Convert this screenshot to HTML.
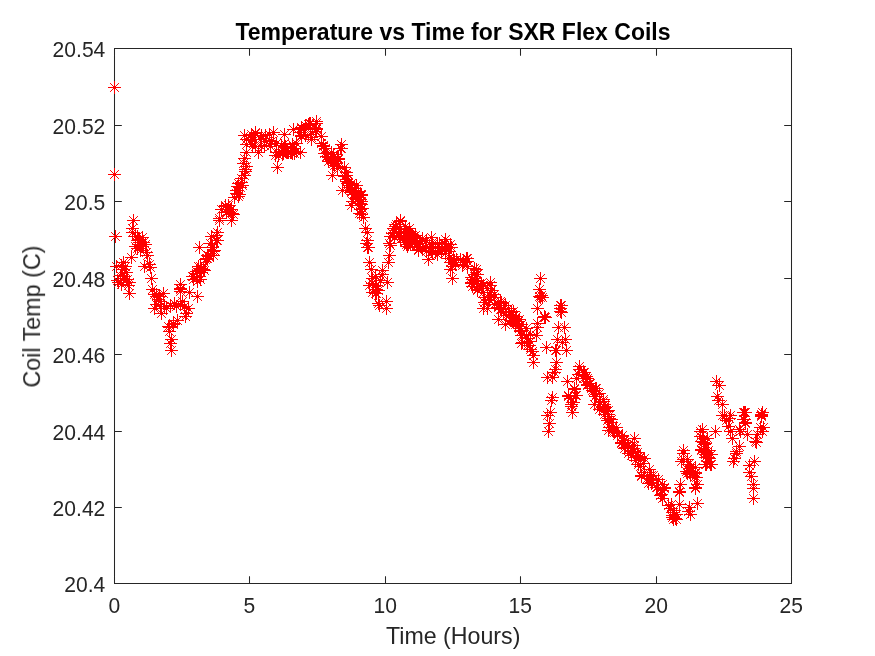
<!DOCTYPE html><html><head><meta charset="utf-8"><style>html,body{margin:0;padding:0;background:#fff;}svg{display:block;}text{font-family:"Liberation Sans",sans-serif;}</style></head><body>
<svg width="875" height="656" viewBox="0 0 875 656">
<rect width="875" height="656" fill="#fff"/>
<path d="M114.5 48.5H791.5V583.5H114.5ZM114.5 583.5v-6.8M114.5 48.5v6.8M249.5 583.5v-6.8M249.5 48.5v6.8M385.5 583.5v-6.8M385.5 48.5v6.8M520.5 583.5v-6.8M520.5 48.5v6.8M656.5 583.5v-6.8M656.5 48.5v6.8M791.5 583.5v-6.8M791.5 48.5v6.8M114.5 583.5h6.8M791.5 583.5h-6.8M114.5 507.5h6.8M791.5 507.5h-6.8M114.5 431.5h6.8M791.5 431.5h-6.8M114.5 354.5h6.8M791.5 354.5h-6.8M114.5 278.5h6.8M791.5 278.5h-6.8M114.5 201.5h6.8M791.5 201.5h-6.8M114.5 125.5h6.8M791.5 125.5h-6.8M114.5 48.5h6.8M791.5 48.5h-6.8" stroke="#262626" stroke-width="1.04" fill="none" stroke-linecap="square"/>
<path d="M108.00 87.50h13.00M114.50 81.00v13.00M110.10 83.10l8.80 8.80M110.10 91.90l8.80 -8.80M108.00 174.50h13.00M114.50 168.00v13.00M110.10 170.10l8.80 8.80M110.10 178.90l8.80 -8.80M109.00 236.50h13.00M115.50 230.00v13.00M111.10 232.10l8.80 8.80M111.10 240.90l8.80 -8.80M127.00 220.50h13.00M133.50 214.00v13.00M129.10 216.10l8.80 8.80M129.10 224.90l8.80 -8.80M126.00 228.50h13.00M132.50 222.00v13.00M128.10 224.10l8.80 8.80M128.10 232.90l8.80 -8.80M131.00 236.50h13.00M137.50 230.00v13.00M133.10 232.10l8.80 8.80M133.10 240.90l8.80 -8.80M133.00 239.50h13.00M139.50 233.00v13.00M135.10 235.10l8.80 8.80M135.10 243.90l8.80 -8.80M135.00 242.50h13.00M141.50 236.00v13.00M137.10 238.10l8.80 8.80M137.10 246.90l8.80 -8.80M132.00 244.50h13.00M138.50 238.00v13.00M134.10 240.10l8.80 8.80M134.10 248.90l8.80 -8.80M136.00 237.50h13.00M142.50 231.00v13.00M138.10 233.10l8.80 8.80M138.10 241.90l8.80 -8.80M110.00 266.50h13.00M116.50 260.00v13.00M112.10 262.10l8.80 8.80M112.10 270.90l8.80 -8.80M117.00 262.50h13.00M123.50 256.00v13.00M119.10 258.10l8.80 8.80M119.10 266.90l8.80 -8.80M116.00 269.50h13.00M122.50 263.00v13.00M118.10 265.10l8.80 8.80M118.10 273.90l8.80 -8.80M111.00 280.50h13.00M117.50 274.00v13.00M113.10 276.10l8.80 8.80M113.10 284.90l8.80 -8.80M112.00 282.50h13.00M118.50 276.00v13.00M114.10 278.10l8.80 8.80M114.10 286.90l8.80 -8.80M117.00 278.50h13.00M123.50 272.00v13.00M119.10 274.10l8.80 8.80M119.10 282.90l8.80 -8.80M121.00 279.50h13.00M127.50 273.00v13.00M123.10 275.10l8.80 8.80M123.10 283.90l8.80 -8.80M123.00 282.50h13.00M129.50 276.00v13.00M125.10 278.10l8.80 8.80M125.10 286.90l8.80 -8.80M123.00 293.50h13.00M129.50 287.00v13.00M125.10 289.10l8.80 8.80M125.10 297.90l8.80 -8.80M125.00 257.50h13.00M131.50 251.00v13.00M127.10 253.10l8.80 8.80M127.10 261.90l8.80 -8.80M129.00 246.50h13.00M135.50 240.00v13.00M131.10 242.10l8.80 8.80M131.10 250.90l8.80 -8.80M133.00 242.50h13.00M139.50 236.00v13.00M135.10 238.10l8.80 8.80M135.10 246.90l8.80 -8.80M137.00 242.50h13.00M143.50 236.00v13.00M139.10 238.10l8.80 8.80M139.10 246.90l8.80 -8.80M140.00 252.50h13.00M146.50 246.00v13.00M142.10 248.10l8.80 8.80M142.10 256.90l8.80 -8.80M141.00 255.50h13.00M147.50 249.00v13.00M143.10 251.10l8.80 8.80M143.10 259.90l8.80 -8.80M138.00 266.50h13.00M144.50 260.00v13.00M140.10 262.10l8.80 8.80M140.10 270.90l8.80 -8.80M143.00 264.50h13.00M149.50 258.00v13.00M145.10 260.10l8.80 8.80M145.10 268.90l8.80 -8.80M144.00 267.50h13.00M150.50 261.00v13.00M146.10 263.10l8.80 8.80M146.10 271.90l8.80 -8.80M145.00 278.50h13.00M151.50 272.00v13.00M147.10 274.10l8.80 8.80M147.10 282.90l8.80 -8.80M146.00 289.50h13.00M152.50 283.00v13.00M148.10 285.10l8.80 8.80M148.10 293.90l8.80 -8.80M150.00 294.50h13.00M156.50 288.00v13.00M152.10 290.10l8.80 8.80M152.10 298.90l8.80 -8.80M153.00 296.50h13.00M159.50 290.00v13.00M155.10 292.10l8.80 8.80M155.10 300.90l8.80 -8.80M157.00 293.50h13.00M163.50 287.00v13.00M159.10 289.10l8.80 8.80M159.10 297.90l8.80 -8.80M174.00 284.50h13.00M180.50 278.00v13.00M176.10 280.10l8.80 8.80M176.10 288.90l8.80 -8.80M174.00 289.50h13.00M180.50 283.00v13.00M176.10 285.10l8.80 8.80M176.10 293.90l8.80 -8.80M145.00 278.50h13.00M151.50 272.00v13.00M147.10 274.10l8.80 8.80M147.10 282.90l8.80 -8.80M146.00 289.50h13.00M152.50 283.00v13.00M148.10 285.10l8.80 8.80M148.10 293.90l8.80 -8.80M150.00 296.50h13.00M156.50 290.00v13.00M152.10 292.10l8.80 8.80M152.10 300.90l8.80 -8.80M148.00 294.50h13.00M154.50 288.00v13.00M150.10 290.10l8.80 8.80M150.10 298.90l8.80 -8.80M152.00 299.50h13.00M158.50 293.00v13.00M154.10 295.10l8.80 8.80M154.10 303.90l8.80 -8.80M154.00 301.50h13.00M160.50 295.00v13.00M156.10 297.10l8.80 8.80M156.10 305.90l8.80 -8.80M157.00 293.50h13.00M163.50 287.00v13.00M159.10 289.10l8.80 8.80M159.10 297.90l8.80 -8.80M148.00 308.50h13.00M154.50 302.00v13.00M150.10 304.10l8.80 8.80M150.10 312.90l8.80 -8.80M155.00 313.50h13.00M161.50 307.00v13.00M157.10 309.10l8.80 8.80M157.10 317.90l8.80 -8.80M158.00 306.50h13.00M164.50 300.00v13.00M160.10 302.10l8.80 8.80M160.10 310.90l8.80 -8.80M160.00 308.50h13.00M166.50 302.00v13.00M162.10 304.10l8.80 8.80M162.10 312.90l8.80 -8.80M170.00 306.50h13.00M176.50 300.00v13.00M172.10 302.10l8.80 8.80M172.10 310.90l8.80 -8.80M174.00 288.50h13.00M180.50 282.00v13.00M176.10 284.10l8.80 8.80M176.10 292.90l8.80 -8.80M174.00 291.50h13.00M180.50 285.00v13.00M176.10 287.10l8.80 8.80M176.10 295.90l8.80 -8.80M176.00 301.50h13.00M182.50 295.00v13.00M178.10 297.10l8.80 8.80M178.10 305.90l8.80 -8.80M180.00 313.50h13.00M186.50 307.00v13.00M182.10 309.10l8.80 8.80M182.10 317.90l8.80 -8.80M179.00 316.50h13.00M185.50 310.00v13.00M181.10 312.10l8.80 8.80M181.10 320.90l8.80 -8.80M182.00 308.50h13.00M188.50 302.00v13.00M184.10 304.10l8.80 8.80M184.10 312.90l8.80 -8.80M171.00 320.50h13.00M177.50 314.00v13.00M173.10 316.10l8.80 8.80M173.10 324.90l8.80 -8.80M167.00 324.50h13.00M173.50 318.00v13.00M169.10 320.10l8.80 8.80M169.10 328.90l8.80 -8.80M162.00 326.50h13.00M168.50 320.00v13.00M164.10 322.10l8.80 8.80M164.10 330.90l8.80 -8.80M183.00 292.50h13.00M189.50 286.00v13.00M185.10 288.10l8.80 8.80M185.10 296.90l8.80 -8.80M187.00 279.50h13.00M193.50 273.00v13.00M189.10 275.10l8.80 8.80M189.10 283.90l8.80 -8.80M191.00 281.50h13.00M197.50 275.00v13.00M193.10 277.10l8.80 8.80M193.10 285.90l8.80 -8.80M191.00 296.50h13.00M197.50 290.00v13.00M193.10 292.10l8.80 8.80M193.10 300.90l8.80 -8.80M194.00 279.50h13.00M200.50 273.00v13.00M196.10 275.10l8.80 8.80M196.10 283.90l8.80 -8.80M195.00 272.50h13.00M201.50 266.00v13.00M197.10 268.10l8.80 8.80M197.10 276.90l8.80 -8.80M198.00 270.50h13.00M204.50 264.00v13.00M200.10 266.10l8.80 8.80M200.10 274.90l8.80 -8.80M163.00 327.50h13.00M169.50 321.00v13.00M165.10 323.10l8.80 8.80M165.10 331.90l8.80 -8.80M163.00 331.50h13.00M169.50 325.00v13.00M165.10 327.10l8.80 8.80M165.10 335.90l8.80 -8.80M167.00 323.50h13.00M173.50 317.00v13.00M169.10 319.10l8.80 8.80M169.10 327.90l8.80 -8.80M171.00 320.50h13.00M177.50 314.00v13.00M173.10 316.10l8.80 8.80M173.10 324.90l8.80 -8.80M165.00 339.50h13.00M171.50 333.00v13.00M167.10 335.10l8.80 8.80M167.10 343.90l8.80 -8.80M164.00 343.50h13.00M170.50 337.00v13.00M166.10 339.10l8.80 8.80M166.10 347.90l8.80 -8.80M165.00 350.50h13.00M171.50 344.00v13.00M167.10 346.10l8.80 8.80M167.10 354.90l8.80 -8.80M179.00 316.50h13.00M185.50 310.00v13.00M181.10 312.10l8.80 8.80M181.10 320.90l8.80 -8.80M150.00 304.50h13.00M156.50 298.00v13.00M152.10 300.10l8.80 8.80M152.10 308.90l8.80 -8.80M154.00 306.50h13.00M160.50 300.00v13.00M156.10 302.10l8.80 8.80M156.10 310.90l8.80 -8.80M164.00 305.50h13.00M170.50 299.00v13.00M166.10 301.10l8.80 8.80M166.10 309.90l8.80 -8.80M168.00 303.50h13.00M174.50 297.00v13.00M170.10 299.10l8.80 8.80M170.10 307.90l8.80 -8.80M174.00 304.50h13.00M180.50 298.00v13.00M176.10 300.10l8.80 8.80M176.10 308.90l8.80 -8.80M178.00 306.50h13.00M184.50 300.00v13.00M180.10 302.10l8.80 8.80M180.10 310.90l8.80 -8.80M213.00 220.50h13.00M219.50 214.00v13.00M215.10 216.10l8.80 8.80M215.10 224.90l8.80 -8.80M225.00 220.50h13.00M231.50 214.00v13.00M227.10 216.10l8.80 8.80M227.10 224.90l8.80 -8.80M211.00 232.50h13.00M217.50 226.00v13.00M213.10 228.10l8.80 8.80M213.10 236.90l8.80 -8.80M205.00 236.50h13.00M211.50 230.00v13.00M207.10 232.10l8.80 8.80M207.10 240.90l8.80 -8.80M211.00 240.50h13.00M217.50 234.00v13.00M213.10 236.10l8.80 8.80M213.10 244.90l8.80 -8.80M193.00 247.50h13.00M199.50 241.00v13.00M195.10 243.10l8.80 8.80M195.10 251.90l8.80 -8.80M204.00 243.50h13.00M210.50 237.00v13.00M206.10 239.10l8.80 8.80M206.10 247.90l8.80 -8.80M207.00 251.50h13.00M213.50 245.00v13.00M209.10 247.10l8.80 8.80M209.10 255.90l8.80 -8.80M207.00 255.50h13.00M213.50 249.00v13.00M209.10 251.10l8.80 8.80M209.10 259.90l8.80 -8.80M202.00 255.50h13.00M208.50 249.00v13.00M204.10 251.10l8.80 8.80M204.10 259.90l8.80 -8.80M199.00 259.50h13.00M205.50 253.00v13.00M201.10 255.10l8.80 8.80M201.10 263.90l8.80 -8.80M192.00 266.50h13.00M198.50 260.00v13.00M194.10 262.10l8.80 8.80M194.10 270.90l8.80 -8.80M197.00 269.50h13.00M203.50 263.00v13.00M199.10 265.10l8.80 8.80M199.10 273.90l8.80 -8.80M187.00 276.50h13.00M193.50 270.00v13.00M189.10 272.10l8.80 8.80M189.10 280.90l8.80 -8.80M193.00 276.50h13.00M199.50 270.00v13.00M195.10 272.10l8.80 8.80M195.10 280.90l8.80 -8.80M237.00 163.50h13.00M243.50 157.00v13.00M239.10 159.10l8.80 8.80M239.10 167.90l8.80 -8.80M239.00 171.50h13.00M245.50 165.00v13.00M241.10 167.10l8.80 8.80M241.10 175.90l8.80 -8.80M271.00 167.50h13.00M277.50 161.00v13.00M273.10 163.10l8.80 8.80M273.10 171.90l8.80 -8.80M235.00 182.50h13.00M241.50 176.00v13.00M237.10 178.10l8.80 8.80M237.10 186.90l8.80 -8.80M231.00 186.50h13.00M237.50 180.00v13.00M233.10 182.10l8.80 8.80M233.10 190.90l8.80 -8.80M230.00 190.50h13.00M236.50 184.00v13.00M232.10 186.10l8.80 8.80M232.10 194.90l8.80 -8.80M233.00 194.50h13.00M239.50 188.00v13.00M235.10 190.10l8.80 8.80M235.10 198.90l8.80 -8.80M228.00 197.50h13.00M234.50 191.00v13.00M230.10 193.10l8.80 8.80M230.10 201.90l8.80 -8.80M219.00 205.50h13.00M225.50 199.00v13.00M221.10 201.10l8.80 8.80M221.10 209.90l8.80 -8.80M215.00 209.50h13.00M221.50 203.00v13.00M217.10 205.10l8.80 8.80M217.10 213.90l8.80 -8.80M225.00 209.50h13.00M231.50 203.00v13.00M227.10 205.10l8.80 8.80M227.10 213.90l8.80 -8.80M226.00 213.50h13.00M232.50 207.00v13.00M228.10 209.10l8.80 8.80M228.10 217.90l8.80 -8.80M213.00 218.50h13.00M219.50 212.00v13.00M215.10 214.10l8.80 8.80M215.10 222.90l8.80 -8.80M222.00 211.50h13.00M228.50 205.00v13.00M224.10 207.10l8.80 8.80M224.10 215.90l8.80 -8.80M249.00 132.50h13.00M255.50 126.00v13.00M251.10 128.10l8.80 8.80M251.10 136.90l8.80 -8.80M244.00 140.50h13.00M250.50 134.00v13.00M246.10 136.10l8.80 8.80M246.10 144.90l8.80 -8.80M240.00 152.50h13.00M246.50 146.00v13.00M242.10 148.10l8.80 8.80M242.10 156.90l8.80 -8.80M252.00 152.50h13.00M258.50 146.00v13.00M254.10 148.10l8.80 8.80M254.10 156.90l8.80 -8.80M237.00 163.50h13.00M243.50 157.00v13.00M239.10 159.10l8.80 8.80M239.10 167.90l8.80 -8.80M239.00 169.50h13.00M245.50 163.00v13.00M241.10 165.10l8.80 8.80M241.10 173.90l8.80 -8.80M267.00 132.50h13.00M273.50 126.00v13.00M269.10 128.10l8.80 8.80M269.10 136.90l8.80 -8.80M278.00 134.50h13.00M284.50 128.00v13.00M280.10 130.10l8.80 8.80M280.10 138.90l8.80 -8.80M287.00 129.50h13.00M293.50 123.00v13.00M289.10 125.10l8.80 8.80M289.10 133.90l8.80 -8.80M263.00 140.50h13.00M269.50 134.00v13.00M265.10 136.10l8.80 8.80M265.10 144.90l8.80 -8.80M272.00 155.50h13.00M278.50 149.00v13.00M274.10 151.10l8.80 8.80M274.10 159.90l8.80 -8.80M271.00 167.50h13.00M277.50 161.00v13.00M273.10 163.10l8.80 8.80M273.10 171.90l8.80 -8.80M287.00 148.50h13.00M293.50 142.00v13.00M289.10 144.10l8.80 8.80M289.10 152.90l8.80 -8.80M280.00 151.50h13.00M286.50 145.00v13.00M282.10 147.10l8.80 8.80M282.10 155.90l8.80 -8.80M278.00 143.50h13.00M284.50 137.00v13.00M280.10 139.10l8.80 8.80M280.10 147.90l8.80 -8.80M305.00 139.50h13.00M311.50 133.00v13.00M307.10 135.10l8.80 8.80M307.10 143.90l8.80 -8.80M302.00 124.50h13.00M308.50 118.00v13.00M304.10 120.10l8.80 8.80M304.10 128.90l8.80 -8.80M287.00 129.50h13.00M293.50 123.00v13.00M289.10 125.10l8.80 8.80M289.10 133.90l8.80 -8.80M295.00 128.50h13.00M301.50 122.00v13.00M297.10 124.10l8.80 8.80M297.10 132.90l8.80 -8.80M295.00 135.50h13.00M301.50 129.00v13.00M297.10 131.10l8.80 8.80M297.10 139.90l8.80 -8.80M303.00 123.50h13.00M309.50 117.00v13.00M305.10 119.10l8.80 8.80M305.10 127.90l8.80 -8.80M310.00 121.50h13.00M316.50 115.00v13.00M312.10 117.10l8.80 8.80M312.10 125.90l8.80 -8.80M305.00 137.50h13.00M311.50 131.00v13.00M307.10 133.10l8.80 8.80M307.10 141.90l8.80 -8.80M310.00 128.50h13.00M316.50 122.00v13.00M312.10 124.10l8.80 8.80M312.10 132.90l8.80 -8.80M315.00 136.50h13.00M321.50 130.00v13.00M317.10 132.10l8.80 8.80M317.10 140.90l8.80 -8.80M315.00 143.50h13.00M321.50 137.00v13.00M317.10 139.10l8.80 8.80M317.10 147.90l8.80 -8.80M288.00 148.50h13.00M294.50 142.00v13.00M290.10 144.10l8.80 8.80M290.10 152.90l8.80 -8.80M285.00 152.50h13.00M291.50 146.00v13.00M287.10 148.10l8.80 8.80M287.10 156.90l8.80 -8.80M335.00 144.50h13.00M341.50 138.00v13.00M337.10 140.10l8.80 8.80M337.10 148.90l8.80 -8.80M335.00 148.50h13.00M341.50 142.00v13.00M337.10 144.10l8.80 8.80M337.10 152.90l8.80 -8.80M320.00 156.50h13.00M326.50 150.00v13.00M322.10 152.10l8.80 8.80M322.10 160.90l8.80 -8.80M327.00 156.50h13.00M333.50 150.00v13.00M329.10 152.10l8.80 8.80M329.10 160.90l8.80 -8.80M322.00 161.50h13.00M328.50 155.00v13.00M324.10 157.10l8.80 8.80M324.10 165.90l8.80 -8.80M331.00 159.50h13.00M337.50 153.00v13.00M333.10 155.10l8.80 8.80M333.10 163.90l8.80 -8.80M334.00 148.50h13.00M340.50 142.00v13.00M336.10 144.10l8.80 8.80M336.10 152.90l8.80 -8.80M317.00 146.50h13.00M323.50 140.00v13.00M319.10 142.10l8.80 8.80M319.10 150.90l8.80 -8.80M321.00 156.50h13.00M327.50 150.00v13.00M323.10 152.10l8.80 8.80M323.10 160.90l8.80 -8.80M325.00 160.50h13.00M331.50 154.00v13.00M327.10 156.10l8.80 8.80M327.10 164.90l8.80 -8.80M330.00 163.50h13.00M336.50 157.00v13.00M332.10 159.10l8.80 8.80M332.10 167.90l8.80 -8.80M326.00 175.50h13.00M332.50 169.00v13.00M328.10 171.10l8.80 8.80M328.10 179.90l8.80 -8.80M339.00 175.50h13.00M345.50 169.00v13.00M341.10 171.10l8.80 8.80M341.10 179.90l8.80 -8.80M340.00 181.50h13.00M346.50 175.00v13.00M342.10 177.10l8.80 8.80M342.10 185.90l8.80 -8.80M343.00 185.50h13.00M349.50 179.00v13.00M345.10 181.10l8.80 8.80M345.10 189.90l8.80 -8.80M336.00 190.50h13.00M342.50 184.00v13.00M338.10 186.10l8.80 8.80M338.10 194.90l8.80 -8.80M350.00 185.50h13.00M356.50 179.00v13.00M352.10 181.10l8.80 8.80M352.10 189.90l8.80 -8.80M348.00 190.50h13.00M354.50 184.00v13.00M350.10 186.10l8.80 8.80M350.10 194.90l8.80 -8.80M354.00 194.50h13.00M360.50 188.00v13.00M356.10 190.10l8.80 8.80M356.10 198.90l8.80 -8.80M349.00 198.50h13.00M355.50 192.00v13.00M351.10 194.10l8.80 8.80M351.10 202.90l8.80 -8.80M354.00 199.50h13.00M360.50 193.00v13.00M356.10 195.10l8.80 8.80M356.10 203.90l8.80 -8.80M345.00 191.50h13.00M351.50 185.00v13.00M347.10 187.10l8.80 8.80M347.10 195.90l8.80 -8.80M355.00 194.50h13.00M361.50 188.00v13.00M357.10 190.10l8.80 8.80M357.10 198.90l8.80 -8.80M346.00 201.50h13.00M352.50 195.00v13.00M348.10 197.10l8.80 8.80M348.10 205.90l8.80 -8.80M355.00 201.50h13.00M361.50 195.00v13.00M357.10 197.10l8.80 8.80M357.10 205.90l8.80 -8.80M345.00 205.50h13.00M351.50 199.00v13.00M347.10 201.10l8.80 8.80M347.10 209.90l8.80 -8.80M353.00 213.50h13.00M359.50 207.00v13.00M355.10 209.10l8.80 8.80M355.10 217.90l8.80 -8.80M357.00 217.50h13.00M363.50 211.00v13.00M359.10 213.10l8.80 8.80M359.10 221.90l8.80 -8.80M359.00 228.50h13.00M365.50 222.00v13.00M361.10 224.10l8.80 8.80M361.10 232.90l8.80 -8.80M361.00 232.50h13.00M367.50 226.00v13.00M363.10 228.10l8.80 8.80M363.10 236.90l8.80 -8.80M361.00 240.50h13.00M367.50 234.00v13.00M363.10 236.10l8.80 8.80M363.10 244.90l8.80 -8.80M360.00 243.50h13.00M366.50 237.00v13.00M362.10 239.10l8.80 8.80M362.10 247.90l8.80 -8.80M361.00 247.50h13.00M367.50 241.00v13.00M363.10 243.10l8.80 8.80M363.10 251.90l8.80 -8.80M394.00 220.50h13.00M400.50 214.00v13.00M396.10 216.10l8.80 8.80M396.10 224.90l8.80 -8.80M390.00 224.50h13.00M396.50 218.00v13.00M392.10 220.10l8.80 8.80M392.10 228.90l8.80 -8.80M403.00 228.50h13.00M409.50 222.00v13.00M405.10 224.10l8.80 8.80M405.10 232.90l8.80 -8.80M386.00 233.50h13.00M392.50 227.00v13.00M388.10 229.10l8.80 8.80M388.10 237.90l8.80 -8.80M384.00 236.50h13.00M390.50 230.00v13.00M386.10 232.10l8.80 8.80M386.10 240.90l8.80 -8.80M383.00 243.50h13.00M389.50 237.00v13.00M385.10 239.10l8.80 8.80M385.10 247.90l8.80 -8.80M392.00 233.50h13.00M398.50 227.00v13.00M394.10 229.10l8.80 8.80M394.10 237.90l8.80 -8.80M401.00 233.50h13.00M407.50 227.00v13.00M403.10 229.10l8.80 8.80M403.10 237.90l8.80 -8.80M407.00 237.50h13.00M413.50 231.00v13.00M409.10 233.10l8.80 8.80M409.10 241.90l8.80 -8.80M411.00 244.50h13.00M417.50 238.00v13.00M413.10 240.10l8.80 8.80M413.10 248.90l8.80 -8.80M400.00 244.50h13.00M406.50 238.00v13.00M402.10 240.10l8.80 8.80M402.10 248.90l8.80 -8.80M362.00 247.50h13.00M368.50 241.00v13.00M364.10 243.10l8.80 8.80M364.10 251.90l8.80 -8.80M384.00 245.50h13.00M390.50 239.00v13.00M386.10 241.10l8.80 8.80M386.10 249.90l8.80 -8.80M401.00 246.50h13.00M407.50 240.00v13.00M403.10 242.10l8.80 8.80M403.10 250.90l8.80 -8.80M383.00 255.50h13.00M389.50 249.00v13.00M385.10 251.10l8.80 8.80M385.10 259.90l8.80 -8.80M382.00 262.50h13.00M388.50 256.00v13.00M384.10 258.10l8.80 8.80M384.10 266.90l8.80 -8.80M363.00 262.50h13.00M369.50 256.00v13.00M365.10 258.10l8.80 8.80M365.10 266.90l8.80 -8.80M365.00 269.50h13.00M371.50 263.00v13.00M367.10 265.10l8.80 8.80M367.10 273.90l8.80 -8.80M376.00 270.50h13.00M382.50 264.00v13.00M378.10 266.10l8.80 8.80M378.10 274.90l8.80 -8.80M376.00 274.50h13.00M382.50 268.00v13.00M378.10 270.10l8.80 8.80M378.10 278.90l8.80 -8.80M366.00 278.50h13.00M372.50 272.00v13.00M368.10 274.10l8.80 8.80M368.10 282.90l8.80 -8.80M363.00 285.50h13.00M369.50 279.00v13.00M365.10 281.10l8.80 8.80M365.10 289.90l8.80 -8.80M370.00 285.50h13.00M376.50 279.00v13.00M372.10 281.10l8.80 8.80M372.10 289.90l8.80 -8.80M381.00 282.50h13.00M387.50 276.00v13.00M383.10 278.10l8.80 8.80M383.10 286.90l8.80 -8.80M370.00 289.50h13.00M376.50 283.00v13.00M372.10 285.10l8.80 8.80M372.10 293.90l8.80 -8.80M370.00 293.50h13.00M376.50 287.00v13.00M372.10 289.10l8.80 8.80M372.10 297.90l8.80 -8.80M380.00 301.50h13.00M386.50 295.00v13.00M382.10 297.10l8.80 8.80M382.10 305.90l8.80 -8.80M372.00 303.50h13.00M378.50 297.00v13.00M374.10 299.10l8.80 8.80M374.10 307.90l8.80 -8.80M412.00 249.50h13.00M418.50 243.00v13.00M414.10 245.10l8.80 8.80M414.10 253.90l8.80 -8.80M373.00 305.50h13.00M379.50 299.00v13.00M375.10 301.10l8.80 8.80M375.10 309.90l8.80 -8.80M380.00 301.50h13.00M386.50 295.00v13.00M382.10 297.10l8.80 8.80M382.10 305.90l8.80 -8.80M380.00 308.50h13.00M386.50 302.00v13.00M382.10 304.10l8.80 8.80M382.10 312.90l8.80 -8.80M369.00 293.50h13.00M375.50 287.00v13.00M371.10 289.10l8.80 8.80M371.10 297.90l8.80 -8.80M369.00 285.50h13.00M375.50 279.00v13.00M371.10 281.10l8.80 8.80M371.10 289.90l8.80 -8.80M381.00 282.50h13.00M387.50 276.00v13.00M383.10 278.10l8.80 8.80M383.10 286.90l8.80 -8.80M403.00 228.50h13.00M409.50 222.00v13.00M405.10 224.10l8.80 8.80M405.10 232.90l8.80 -8.80M401.00 235.50h13.00M407.50 229.00v13.00M403.10 231.10l8.80 8.80M403.10 239.90l8.80 -8.80M401.00 242.50h13.00M407.50 236.00v13.00M403.10 238.10l8.80 8.80M403.10 246.90l8.80 -8.80M413.00 241.50h13.00M419.50 235.00v13.00M415.10 237.10l8.80 8.80M415.10 245.90l8.80 -8.80M412.00 250.50h13.00M418.50 244.00v13.00M414.10 246.10l8.80 8.80M414.10 254.90l8.80 -8.80M425.00 237.50h13.00M431.50 231.00v13.00M427.10 233.10l8.80 8.80M427.10 241.90l8.80 -8.80M439.00 239.50h13.00M445.50 233.00v13.00M441.10 235.10l8.80 8.80M441.10 243.90l8.80 -8.80M424.00 248.50h13.00M430.50 242.00v13.00M426.10 244.10l8.80 8.80M426.10 252.90l8.80 -8.80M432.00 248.50h13.00M438.50 242.00v13.00M434.10 244.10l8.80 8.80M434.10 252.90l8.80 -8.80M431.00 254.50h13.00M437.50 248.00v13.00M433.10 250.10l8.80 8.80M433.10 258.90l8.80 -8.80M422.00 259.50h13.00M428.50 253.00v13.00M424.10 255.10l8.80 8.80M424.10 263.90l8.80 -8.80M442.00 247.50h13.00M448.50 241.00v13.00M444.10 243.10l8.80 8.80M444.10 251.90l8.80 -8.80M450.00 259.50h13.00M456.50 253.00v13.00M452.10 255.10l8.80 8.80M452.10 263.90l8.80 -8.80M461.00 258.50h13.00M467.50 252.00v13.00M463.10 254.10l8.80 8.80M463.10 262.90l8.80 -8.80M457.00 262.50h13.00M463.50 256.00v13.00M459.10 258.10l8.80 8.80M459.10 266.90l8.80 -8.80M440.00 246.50h13.00M446.50 240.00v13.00M442.10 242.10l8.80 8.80M442.10 250.90l8.80 -8.80M448.00 260.50h13.00M454.50 254.00v13.00M450.10 256.10l8.80 8.80M450.10 264.90l8.80 -8.80M457.00 260.50h13.00M463.50 254.00v13.00M459.10 256.10l8.80 8.80M459.10 264.90l8.80 -8.80M461.00 261.50h13.00M467.50 255.00v13.00M463.10 257.10l8.80 8.80M463.10 265.90l8.80 -8.80M444.00 269.50h13.00M450.50 263.00v13.00M446.10 265.10l8.80 8.80M446.10 273.90l8.80 -8.80M446.00 278.50h13.00M452.50 272.00v13.00M448.10 274.10l8.80 8.80M448.10 282.90l8.80 -8.80M470.00 269.50h13.00M476.50 263.00v13.00M472.10 265.10l8.80 8.80M472.10 273.90l8.80 -8.80M471.00 274.50h13.00M477.50 268.00v13.00M473.10 270.10l8.80 8.80M473.10 278.90l8.80 -8.80M465.00 277.50h13.00M471.50 271.00v13.00M467.10 273.10l8.80 8.80M467.10 281.90l8.80 -8.80M465.00 282.50h13.00M471.50 276.00v13.00M467.10 278.10l8.80 8.80M467.10 286.90l8.80 -8.80M484.00 282.50h13.00M490.50 276.00v13.00M486.10 278.10l8.80 8.80M486.10 286.90l8.80 -8.80M475.00 283.50h13.00M481.50 277.00v13.00M477.10 279.10l8.80 8.80M477.10 287.90l8.80 -8.80M470.00 269.50h13.00M476.50 263.00v13.00M472.10 265.10l8.80 8.80M472.10 273.90l8.80 -8.80M470.00 274.50h13.00M476.50 268.00v13.00M472.10 270.10l8.80 8.80M472.10 278.90l8.80 -8.80M465.00 283.50h13.00M471.50 277.00v13.00M467.10 279.10l8.80 8.80M467.10 287.90l8.80 -8.80M475.00 288.50h13.00M481.50 282.00v13.00M477.10 284.10l8.80 8.80M477.10 292.90l8.80 -8.80M484.00 285.50h13.00M490.50 279.00v13.00M486.10 281.10l8.80 8.80M486.10 289.90l8.80 -8.80M488.00 294.50h13.00M494.50 288.00v13.00M490.10 290.10l8.80 8.80M490.10 298.90l8.80 -8.80M478.00 302.50h13.00M484.50 296.00v13.00M480.10 298.10l8.80 8.80M480.10 306.90l8.80 -8.80M477.00 308.50h13.00M483.50 302.00v13.00M479.10 304.10l8.80 8.80M479.10 312.90l8.80 -8.80M481.00 308.50h13.00M487.50 302.00v13.00M483.10 304.10l8.80 8.80M483.10 312.90l8.80 -8.80M494.00 303.50h13.00M500.50 297.00v13.00M496.10 299.10l8.80 8.80M496.10 307.90l8.80 -8.80M495.00 309.50h13.00M501.50 303.00v13.00M497.10 305.10l8.80 8.80M497.10 313.90l8.80 -8.80M492.00 319.50h13.00M498.50 313.00v13.00M494.10 315.10l8.80 8.80M494.10 323.90l8.80 -8.80M503.00 314.50h13.00M509.50 308.00v13.00M505.10 310.10l8.80 8.80M505.10 318.90l8.80 -8.80M504.00 320.50h13.00M510.50 314.00v13.00M506.10 316.10l8.80 8.80M506.10 324.90l8.80 -8.80M513.00 319.50h13.00M519.50 313.00v13.00M515.10 315.10l8.80 8.80M515.10 323.90l8.80 -8.80M534.00 278.50h13.00M540.50 272.00v13.00M536.10 274.10l8.80 8.80M536.10 282.90l8.80 -8.80M533.00 289.50h13.00M539.50 283.00v13.00M535.10 285.10l8.80 8.80M535.10 293.90l8.80 -8.80M535.00 295.50h13.00M541.50 289.00v13.00M537.10 291.10l8.80 8.80M537.10 299.90l8.80 -8.80M534.00 297.50h13.00M540.50 291.00v13.00M536.10 293.10l8.80 8.80M536.10 301.90l8.80 -8.80M531.00 308.50h13.00M537.50 302.00v13.00M533.10 304.10l8.80 8.80M533.10 312.90l8.80 -8.80M539.00 317.50h13.00M545.50 311.00v13.00M541.10 313.10l8.80 8.80M541.10 321.90l8.80 -8.80M531.00 323.50h13.00M537.50 317.00v13.00M533.10 319.10l8.80 8.80M533.10 327.90l8.80 -8.80M495.00 308.50h13.00M501.50 302.00v13.00M497.10 304.10l8.80 8.80M497.10 312.90l8.80 -8.80M503.00 314.50h13.00M509.50 308.00v13.00M505.10 310.10l8.80 8.80M505.10 318.90l8.80 -8.80M499.00 324.50h13.00M505.50 318.00v13.00M501.10 320.10l8.80 8.80M501.10 328.90l8.80 -8.80M507.00 321.50h13.00M513.50 315.00v13.00M509.10 317.10l8.80 8.80M509.10 325.90l8.80 -8.80M512.00 321.50h13.00M518.50 315.00v13.00M514.10 317.10l8.80 8.80M514.10 325.90l8.80 -8.80M512.00 326.50h13.00M518.50 320.00v13.00M514.10 322.10l8.80 8.80M514.10 330.90l8.80 -8.80M515.00 335.50h13.00M521.50 329.00v13.00M517.10 331.10l8.80 8.80M517.10 339.90l8.80 -8.80M515.00 343.50h13.00M521.50 337.00v13.00M517.10 339.10l8.80 8.80M517.10 347.90l8.80 -8.80M520.00 338.50h13.00M526.50 332.00v13.00M522.10 334.10l8.80 8.80M522.10 342.90l8.80 -8.80M526.00 351.50h13.00M532.50 345.00v13.00M528.10 347.10l8.80 8.80M528.10 355.90l8.80 -8.80M527.00 355.50h13.00M533.50 349.00v13.00M529.10 351.10l8.80 8.80M529.10 359.90l8.80 -8.80M531.00 308.50h13.00M537.50 302.00v13.00M533.10 304.10l8.80 8.80M533.10 312.90l8.80 -8.80M538.00 317.50h13.00M544.50 311.00v13.00M540.10 313.10l8.80 8.80M540.10 321.90l8.80 -8.80M531.00 327.50h13.00M537.50 321.00v13.00M533.10 323.10l8.80 8.80M533.10 331.90l8.80 -8.80M530.00 335.50h13.00M536.50 329.00v13.00M532.10 331.10l8.80 8.80M532.10 339.90l8.80 -8.80M540.00 347.50h13.00M546.50 341.00v13.00M542.10 343.10l8.80 8.80M542.10 351.90l8.80 -8.80M554.00 305.50h13.00M560.50 299.00v13.00M556.10 301.10l8.80 8.80M556.10 309.90l8.80 -8.80M554.00 311.50h13.00M560.50 305.00v13.00M556.10 307.10l8.80 8.80M556.10 315.90l8.80 -8.80M558.00 327.50h13.00M564.50 321.00v13.00M560.10 323.10l8.80 8.80M560.10 331.90l8.80 -8.80M552.00 327.50h13.00M558.50 321.00v13.00M554.10 323.10l8.80 8.80M554.10 331.90l8.80 -8.80M551.00 339.50h13.00M557.50 333.00v13.00M553.10 335.10l8.80 8.80M553.10 343.90l8.80 -8.80M559.00 339.50h13.00M565.50 333.00v13.00M561.10 335.10l8.80 8.80M561.10 343.90l8.80 -8.80M549.00 350.50h13.00M555.50 344.00v13.00M551.10 346.10l8.80 8.80M551.10 354.90l8.80 -8.80M560.00 350.50h13.00M566.50 344.00v13.00M562.10 346.10l8.80 8.80M562.10 354.90l8.80 -8.80M534.00 278.50h13.00M540.50 272.00v13.00M536.10 274.10l8.80 8.80M536.10 282.90l8.80 -8.80M533.00 289.50h13.00M539.50 283.00v13.00M535.10 285.10l8.80 8.80M535.10 293.90l8.80 -8.80M533.00 296.50h13.00M539.50 290.00v13.00M535.10 292.10l8.80 8.80M535.10 300.90l8.80 -8.80M536.00 297.50h13.00M542.50 291.00v13.00M538.10 293.10l8.80 8.80M538.10 301.90l8.80 -8.80M531.00 308.50h13.00M537.50 302.00v13.00M533.10 304.10l8.80 8.80M533.10 312.90l8.80 -8.80M538.00 316.50h13.00M544.50 310.00v13.00M540.10 312.10l8.80 8.80M540.10 320.90l8.80 -8.80M555.00 305.50h13.00M561.50 299.00v13.00M557.10 301.10l8.80 8.80M557.10 309.90l8.80 -8.80M554.00 308.50h13.00M560.50 302.00v13.00M556.10 304.10l8.80 8.80M556.10 312.90l8.80 -8.80M555.00 312.50h13.00M561.50 306.00v13.00M557.10 308.10l8.80 8.80M557.10 316.90l8.80 -8.80M516.00 342.50h13.00M522.50 336.00v13.00M518.10 338.10l8.80 8.80M518.10 346.90l8.80 -8.80M523.00 345.50h13.00M529.50 339.00v13.00M525.10 341.10l8.80 8.80M525.10 349.90l8.80 -8.80M526.00 351.50h13.00M532.50 345.00v13.00M528.10 347.10l8.80 8.80M528.10 355.90l8.80 -8.80M527.00 362.50h13.00M533.50 356.00v13.00M529.10 358.10l8.80 8.80M529.10 366.90l8.80 -8.80M540.00 347.50h13.00M546.50 341.00v13.00M542.10 343.10l8.80 8.80M542.10 351.90l8.80 -8.80M550.00 350.50h13.00M556.50 344.00v13.00M552.10 346.10l8.80 8.80M552.10 354.90l8.80 -8.80M560.00 350.50h13.00M566.50 344.00v13.00M562.10 346.10l8.80 8.80M562.10 354.90l8.80 -8.80M556.00 342.50h13.00M562.50 336.00v13.00M558.10 338.10l8.80 8.80M558.10 346.90l8.80 -8.80M550.00 362.50h13.00M556.50 356.00v13.00M552.10 358.10l8.80 8.80M552.10 366.90l8.80 -8.80M549.00 369.50h13.00M555.50 363.00v13.00M551.10 365.10l8.80 8.80M551.10 373.90l8.80 -8.80M548.00 372.50h13.00M554.50 366.00v13.00M550.10 368.10l8.80 8.80M550.10 376.90l8.80 -8.80M541.00 377.50h13.00M547.50 371.00v13.00M543.10 373.10l8.80 8.80M543.10 381.90l8.80 -8.80M546.00 377.50h13.00M552.50 371.00v13.00M548.10 373.10l8.80 8.80M548.10 381.90l8.80 -8.80M546.00 397.50h13.00M552.50 391.00v13.00M548.10 393.10l8.80 8.80M548.10 401.90l8.80 -8.80M561.00 381.50h13.00M567.50 375.00v13.00M563.10 377.10l8.80 8.80M563.10 385.90l8.80 -8.80M573.00 369.50h13.00M579.50 363.00v13.00M575.10 365.10l8.80 8.80M575.10 373.90l8.80 -8.80M577.00 372.50h13.00M583.50 366.00v13.00M579.10 368.10l8.80 8.80M579.10 376.90l8.80 -8.80M570.00 378.50h13.00M576.50 372.00v13.00M572.10 374.10l8.80 8.80M572.10 382.90l8.80 -8.80M579.00 378.50h13.00M585.50 372.00v13.00M581.10 374.10l8.80 8.80M581.10 382.90l8.80 -8.80M583.00 383.50h13.00M589.50 377.00v13.00M585.10 379.10l8.80 8.80M585.10 387.90l8.80 -8.80M568.00 389.50h13.00M574.50 383.00v13.00M570.10 385.10l8.80 8.80M570.10 393.90l8.80 -8.80M562.00 395.50h13.00M568.50 389.00v13.00M564.10 391.10l8.80 8.80M564.10 399.90l8.80 -8.80M570.00 395.50h13.00M576.50 389.00v13.00M572.10 391.10l8.80 8.80M572.10 399.90l8.80 -8.80M587.00 391.50h13.00M593.50 385.00v13.00M589.10 387.10l8.80 8.80M589.10 395.90l8.80 -8.80M589.00 396.50h13.00M595.50 390.00v13.00M591.10 392.10l8.80 8.80M591.10 400.90l8.80 -8.80M545.00 400.50h13.00M551.50 394.00v13.00M547.10 396.10l8.80 8.80M547.10 404.90l8.80 -8.80M544.00 412.50h13.00M550.50 406.00v13.00M546.10 408.10l8.80 8.80M546.10 416.90l8.80 -8.80M541.00 415.50h13.00M547.50 409.00v13.00M543.10 411.10l8.80 8.80M543.10 419.90l8.80 -8.80M543.00 423.50h13.00M549.50 417.00v13.00M545.10 419.10l8.80 8.80M545.10 427.90l8.80 -8.80M542.00 431.50h13.00M548.50 425.00v13.00M544.10 427.10l8.80 8.80M544.10 435.90l8.80 -8.80M562.00 396.50h13.00M568.50 390.00v13.00M564.10 392.10l8.80 8.80M564.10 400.90l8.80 -8.80M565.00 404.50h13.00M571.50 398.00v13.00M567.10 400.10l8.80 8.80M567.10 408.90l8.80 -8.80M566.00 412.50h13.00M572.50 406.00v13.00M568.10 408.10l8.80 8.80M568.10 416.90l8.80 -8.80M568.00 388.50h13.00M574.50 382.00v13.00M570.10 384.10l8.80 8.80M570.10 392.90l8.80 -8.80M585.00 388.50h13.00M591.50 382.00v13.00M587.10 384.10l8.80 8.80M587.10 392.90l8.80 -8.80M589.00 396.50h13.00M595.50 390.00v13.00M591.10 392.10l8.80 8.80M591.10 400.90l8.80 -8.80M588.00 404.50h13.00M594.50 398.00v13.00M590.10 400.10l8.80 8.80M590.10 408.90l8.80 -8.80M593.00 404.50h13.00M599.50 398.00v13.00M595.10 400.10l8.80 8.80M595.10 408.90l8.80 -8.80M597.00 410.50h13.00M603.50 404.00v13.00M599.10 406.10l8.80 8.80M599.10 414.90l8.80 -8.80M602.00 414.50h13.00M608.50 408.00v13.00M604.10 410.10l8.80 8.80M604.10 418.90l8.80 -8.80M602.00 430.50h13.00M608.50 424.00v13.00M604.10 426.10l8.80 8.80M604.10 434.90l8.80 -8.80M598.00 404.50h13.00M604.50 398.00v13.00M600.10 400.10l8.80 8.80M600.10 408.90l8.80 -8.80M599.00 411.50h13.00M605.50 405.00v13.00M601.10 407.10l8.80 8.80M601.10 415.90l8.80 -8.80M605.00 419.50h13.00M611.50 413.00v13.00M607.10 415.10l8.80 8.80M607.10 423.90l8.80 -8.80M606.00 427.50h13.00M612.50 421.00v13.00M608.10 423.10l8.80 8.80M608.10 431.90l8.80 -8.80M607.00 431.50h13.00M613.50 425.00v13.00M609.10 427.10l8.80 8.80M609.10 435.90l8.80 -8.80M615.00 436.50h13.00M621.50 430.00v13.00M617.10 432.10l8.80 8.80M617.10 440.90l8.80 -8.80M615.00 442.50h13.00M621.50 436.00v13.00M617.10 438.10l8.80 8.80M617.10 446.90l8.80 -8.80M621.00 445.50h13.00M627.50 439.00v13.00M623.10 441.10l8.80 8.80M623.10 449.90l8.80 -8.80M628.00 438.50h13.00M634.50 432.00v13.00M630.10 434.10l8.80 8.80M630.10 442.90l8.80 -8.80M628.00 445.50h13.00M634.50 439.00v13.00M630.10 441.10l8.80 8.80M630.10 449.90l8.80 -8.80M624.00 451.50h13.00M630.50 445.00v13.00M626.10 447.10l8.80 8.80M626.10 455.90l8.80 -8.80M632.00 456.50h13.00M638.50 450.00v13.00M634.10 452.10l8.80 8.80M634.10 460.90l8.80 -8.80M638.00 458.50h13.00M644.50 452.00v13.00M640.10 454.10l8.80 8.80M640.10 462.90l8.80 -8.80M626.00 445.50h13.00M632.50 439.00v13.00M628.10 441.10l8.80 8.80M628.10 449.90l8.80 -8.80M627.00 451.50h13.00M633.50 445.00v13.00M629.10 447.10l8.80 8.80M629.10 455.90l8.80 -8.80M634.00 460.50h13.00M640.50 454.00v13.00M636.10 456.10l8.80 8.80M636.10 464.90l8.80 -8.80M637.00 463.50h13.00M643.50 457.00v13.00M639.10 459.10l8.80 8.80M639.10 467.90l8.80 -8.80M635.00 475.50h13.00M641.50 469.00v13.00M637.10 471.10l8.80 8.80M637.10 479.90l8.80 -8.80M644.00 476.50h13.00M650.50 470.00v13.00M646.10 472.10l8.80 8.80M646.10 480.90l8.80 -8.80M646.00 480.50h13.00M652.50 474.00v13.00M648.10 476.10l8.80 8.80M648.10 484.90l8.80 -8.80M642.00 483.50h13.00M648.50 477.00v13.00M644.10 479.10l8.80 8.80M644.10 487.90l8.80 -8.80M651.00 487.50h13.00M657.50 481.00v13.00M653.10 483.10l8.80 8.80M653.10 491.90l8.80 -8.80M658.00 487.50h13.00M664.50 481.00v13.00M660.10 483.10l8.80 8.80M660.10 491.90l8.80 -8.80M655.00 494.50h13.00M661.50 488.00v13.00M657.10 490.10l8.80 8.80M657.10 498.90l8.80 -8.80M677.00 453.50h13.00M683.50 447.00v13.00M679.10 449.10l8.80 8.80M679.10 457.90l8.80 -8.80M675.00 461.50h13.00M681.50 455.00v13.00M677.10 457.10l8.80 8.80M677.10 465.90l8.80 -8.80M680.00 471.50h13.00M686.50 465.00v13.00M682.10 467.10l8.80 8.80M682.10 475.90l8.80 -8.80M689.00 472.50h13.00M695.50 466.00v13.00M691.10 468.10l8.80 8.80M691.10 476.90l8.80 -8.80M674.00 484.50h13.00M680.50 478.00v13.00M676.10 480.10l8.80 8.80M676.10 488.90l8.80 -8.80M673.00 492.50h13.00M679.50 486.00v13.00M675.10 488.10l8.80 8.80M675.10 496.90l8.80 -8.80M689.00 487.50h13.00M695.50 481.00v13.00M691.10 483.10l8.80 8.80M691.10 491.90l8.80 -8.80M695.00 449.50h13.00M701.50 443.00v13.00M697.10 445.10l8.80 8.80M697.10 453.90l8.80 -8.80M699.00 454.50h13.00M705.50 448.00v13.00M701.10 450.10l8.80 8.80M701.10 458.90l8.80 -8.80M699.00 464.50h13.00M705.50 458.00v13.00M701.10 460.10l8.80 8.80M701.10 468.90l8.80 -8.80M635.00 476.50h13.00M641.50 470.00v13.00M637.10 472.10l8.80 8.80M637.10 480.90l8.80 -8.80M645.00 482.50h13.00M651.50 476.00v13.00M647.10 478.10l8.80 8.80M647.10 486.90l8.80 -8.80M658.00 488.50h13.00M664.50 482.00v13.00M660.10 484.10l8.80 8.80M660.10 492.90l8.80 -8.80M654.00 495.50h13.00M660.50 489.00v13.00M656.10 491.10l8.80 8.80M656.10 499.90l8.80 -8.80M656.00 498.50h13.00M662.50 492.00v13.00M658.10 494.10l8.80 8.80M658.10 502.90l8.80 -8.80M665.00 504.50h13.00M671.50 498.00v13.00M667.10 500.10l8.80 8.80M667.10 508.90l8.80 -8.80M667.00 510.50h13.00M673.50 504.00v13.00M669.10 506.10l8.80 8.80M669.10 514.90l8.80 -8.80M666.00 515.50h13.00M672.50 509.00v13.00M668.10 511.10l8.80 8.80M668.10 519.90l8.80 -8.80M670.00 519.50h13.00M676.50 513.00v13.00M672.10 515.10l8.80 8.80M672.10 523.90l8.80 -8.80M667.00 519.50h13.00M673.50 513.00v13.00M669.10 515.10l8.80 8.80M669.10 523.90l8.80 -8.80M674.00 484.50h13.00M680.50 478.00v13.00M676.10 480.10l8.80 8.80M676.10 488.90l8.80 -8.80M673.00 491.50h13.00M679.50 485.00v13.00M675.10 487.10l8.80 8.80M675.10 495.90l8.80 -8.80M673.00 504.50h13.00M679.50 498.00v13.00M675.10 500.10l8.80 8.80M675.10 508.90l8.80 -8.80M689.00 488.50h13.00M695.50 482.00v13.00M691.10 484.10l8.80 8.80M691.10 492.90l8.80 -8.80M691.00 503.50h13.00M697.50 497.00v13.00M693.10 499.10l8.80 8.80M693.10 507.90l8.80 -8.80M683.00 507.50h13.00M689.50 501.00v13.00M685.10 503.10l8.80 8.80M685.10 511.90l8.80 -8.80M684.00 514.50h13.00M690.50 508.00v13.00M686.10 510.10l8.80 8.80M686.10 518.90l8.80 -8.80M681.00 473.50h13.00M687.50 467.00v13.00M683.10 469.10l8.80 8.80M683.10 477.90l8.80 -8.80M689.00 473.50h13.00M695.50 467.00v13.00M691.10 469.10l8.80 8.80M691.10 477.90l8.80 -8.80M694.00 431.50h13.00M700.50 425.00v13.00M696.10 427.10l8.80 8.80M696.10 435.90l8.80 -8.80M701.00 438.50h13.00M707.50 432.00v13.00M703.10 434.10l8.80 8.80M703.10 442.90l8.80 -8.80M695.00 441.50h13.00M701.50 435.00v13.00M697.10 437.10l8.80 8.80M697.10 445.90l8.80 -8.80M695.00 450.50h13.00M701.50 444.00v13.00M697.10 446.10l8.80 8.80M697.10 454.90l8.80 -8.80M702.00 450.50h13.00M708.50 444.00v13.00M704.10 446.10l8.80 8.80M704.10 454.90l8.80 -8.80M705.00 454.50h13.00M711.50 448.00v13.00M707.10 450.10l8.80 8.80M707.10 458.90l8.80 -8.80M699.00 457.50h13.00M705.50 451.00v13.00M701.10 453.10l8.80 8.80M701.10 461.90l8.80 -8.80M700.00 464.50h13.00M706.50 458.00v13.00M702.10 460.10l8.80 8.80M702.10 468.90l8.80 -8.80M705.00 464.50h13.00M711.50 458.00v13.00M707.10 460.10l8.80 8.80M707.10 468.90l8.80 -8.80M689.00 467.50h13.00M695.50 461.00v13.00M691.10 463.10l8.80 8.80M691.10 471.90l8.80 -8.80M709.00 431.50h13.00M715.50 425.00v13.00M711.10 427.10l8.80 8.80M711.10 435.90l8.80 -8.80M716.00 415.50h13.00M722.50 409.00v13.00M718.10 411.10l8.80 8.80M718.10 419.90l8.80 -8.80M720.00 420.50h13.00M726.50 414.00v13.00M722.10 416.10l8.80 8.80M722.10 424.90l8.80 -8.80M722.00 426.50h13.00M728.50 420.00v13.00M724.10 422.10l8.80 8.80M724.10 430.90l8.80 -8.80M724.00 431.50h13.00M730.50 425.00v13.00M726.10 427.10l8.80 8.80M726.10 435.90l8.80 -8.80M726.00 438.50h13.00M732.50 432.00v13.00M728.10 434.10l8.80 8.80M728.10 442.90l8.80 -8.80M733.00 446.50h13.00M739.50 440.00v13.00M735.10 442.10l8.80 8.80M735.10 450.90l8.80 -8.80M730.00 451.50h13.00M736.50 445.00v13.00M732.10 447.10l8.80 8.80M732.10 455.90l8.80 -8.80M728.00 458.50h13.00M734.50 452.00v13.00M730.10 454.10l8.80 8.80M730.10 462.90l8.80 -8.80M727.00 461.50h13.00M733.50 455.00v13.00M729.10 457.10l8.80 8.80M729.10 465.90l8.80 -8.80M737.00 412.50h13.00M743.50 406.00v13.00M739.10 408.10l8.80 8.80M739.10 416.90l8.80 -8.80M738.00 419.50h13.00M744.50 413.00v13.00M740.10 415.10l8.80 8.80M740.10 423.90l8.80 -8.80M739.00 422.50h13.00M745.50 416.00v13.00M741.10 418.10l8.80 8.80M741.10 426.90l8.80 -8.80M734.00 431.50h13.00M740.50 425.00v13.00M736.10 427.10l8.80 8.80M736.10 435.90l8.80 -8.80M741.00 434.50h13.00M747.50 428.00v13.00M743.10 430.10l8.80 8.80M743.10 438.90l8.80 -8.80M755.00 414.50h13.00M761.50 408.00v13.00M757.10 410.10l8.80 8.80M757.10 418.90l8.80 -8.80M754.00 427.50h13.00M760.50 421.00v13.00M756.10 423.10l8.80 8.80M756.10 431.90l8.80 -8.80M751.00 434.50h13.00M757.50 428.00v13.00M753.10 430.10l8.80 8.80M753.10 438.90l8.80 -8.80M750.00 442.50h13.00M756.50 436.00v13.00M752.10 438.10l8.80 8.80M752.10 446.90l8.80 -8.80M748.00 461.50h13.00M754.50 455.00v13.00M750.10 457.10l8.80 8.80M750.10 465.90l8.80 -8.80M743.00 465.50h13.00M749.50 459.00v13.00M745.10 461.10l8.80 8.80M745.10 469.90l8.80 -8.80M710.00 381.50h13.00M716.50 375.00v13.00M712.10 377.10l8.80 8.80M712.10 385.90l8.80 -8.80M713.00 385.50h13.00M719.50 379.00v13.00M715.10 381.10l8.80 8.80M715.10 389.90l8.80 -8.80M711.00 396.50h13.00M717.50 390.00v13.00M713.10 392.10l8.80 8.80M713.10 400.90l8.80 -8.80M712.00 400.50h13.00M718.50 394.00v13.00M714.10 396.10l8.80 8.80M714.10 404.90l8.80 -8.80M716.00 404.50h13.00M722.50 398.00v13.00M718.10 400.10l8.80 8.80M718.10 408.90l8.80 -8.80M718.00 415.50h13.00M724.50 409.00v13.00M720.10 411.10l8.80 8.80M720.10 419.90l8.80 -8.80M723.00 418.50h13.00M729.50 412.00v13.00M725.10 414.10l8.80 8.80M725.10 422.90l8.80 -8.80M738.00 412.50h13.00M744.50 406.00v13.00M740.10 408.10l8.80 8.80M740.10 416.90l8.80 -8.80M737.00 419.50h13.00M743.50 413.00v13.00M739.10 415.10l8.80 8.80M739.10 423.90l8.80 -8.80M756.00 412.50h13.00M762.50 406.00v13.00M758.10 408.10l8.80 8.80M758.10 416.90l8.80 -8.80M755.00 416.50h13.00M761.50 410.00v13.00M757.10 412.10l8.80 8.80M757.10 420.90l8.80 -8.80M749.00 441.50h13.00M755.50 435.00v13.00M751.10 437.10l8.80 8.80M751.10 445.90l8.80 -8.80M733.00 446.50h13.00M739.50 440.00v13.00M735.10 442.10l8.80 8.80M735.10 450.90l8.80 -8.80M730.00 453.50h13.00M736.50 447.00v13.00M732.10 449.10l8.80 8.80M732.10 457.90l8.80 -8.80M727.00 461.50h13.00M733.50 455.00v13.00M729.10 457.10l8.80 8.80M729.10 465.90l8.80 -8.80M748.00 461.50h13.00M754.50 455.00v13.00M750.10 457.10l8.80 8.80M750.10 465.90l8.80 -8.80M743.00 465.50h13.00M749.50 459.00v13.00M745.10 461.10l8.80 8.80M745.10 469.90l8.80 -8.80M743.00 472.50h13.00M749.50 466.00v13.00M745.10 468.10l8.80 8.80M745.10 476.90l8.80 -8.80M745.00 476.50h13.00M751.50 470.00v13.00M747.10 472.10l8.80 8.80M747.10 480.90l8.80 -8.80M747.00 484.50h13.00M753.50 478.00v13.00M749.10 480.10l8.80 8.80M749.10 488.90l8.80 -8.80M747.00 488.50h13.00M753.50 482.00v13.00M749.10 484.10l8.80 8.80M749.10 492.90l8.80 -8.80M747.00 498.50h13.00M753.50 492.00v13.00M749.10 494.10l8.80 8.80M749.10 502.90l8.80 -8.80M739.00 412.50h13.00M745.50 406.00v13.00M741.10 408.10l8.80 8.80M741.10 416.90l8.80 -8.80M737.00 419.50h13.00M743.50 413.00v13.00M739.10 415.10l8.80 8.80M739.10 423.90l8.80 -8.80M739.00 423.50h13.00M745.50 417.00v13.00M741.10 419.10l8.80 8.80M741.10 427.90l8.80 -8.80M756.00 412.50h13.00M762.50 406.00v13.00M758.10 408.10l8.80 8.80M758.10 416.90l8.80 -8.80M755.00 415.50h13.00M761.50 409.00v13.00M757.10 411.10l8.80 8.80M757.10 419.90l8.80 -8.80M754.00 427.50h13.00M760.50 421.00v13.00M756.10 423.10l8.80 8.80M756.10 431.90l8.80 -8.80M757.00 427.50h13.00M763.50 421.00v13.00M759.10 423.10l8.80 8.80M759.10 431.90l8.80 -8.80M756.00 431.50h13.00M762.50 425.00v13.00M758.10 427.10l8.80 8.80M758.10 435.90l8.80 -8.80M724.00 415.50h13.00M730.50 409.00v13.00M726.10 411.10l8.80 8.80M726.10 419.90l8.80 -8.80M733.00 429.50h13.00M739.50 423.00v13.00M735.10 425.10l8.80 8.80M735.10 433.90l8.80 -8.80M186.00 276.50h13.00M192.50 270.00v13.00M188.10 272.10l8.80 8.80M188.10 280.90l8.80 -8.80M187.00 279.50h13.00M193.50 273.00v13.00M189.10 275.10l8.80 8.80M189.10 283.90l8.80 -8.80M190.00 271.50h13.00M196.50 265.00v13.00M192.10 267.10l8.80 8.80M192.10 275.90l8.80 -8.80M190.00 273.50h13.00M196.50 267.00v13.00M192.10 269.10l8.80 8.80M192.10 277.90l8.80 -8.80M192.00 266.50h13.00M198.50 260.00v13.00M194.10 262.10l8.80 8.80M194.10 270.90l8.80 -8.80M194.00 268.50h13.00M200.50 262.00v13.00M196.10 264.10l8.80 8.80M196.10 272.90l8.80 -8.80M194.00 266.50h13.00M200.50 260.00v13.00M196.10 262.10l8.80 8.80M196.10 270.90l8.80 -8.80M195.00 268.50h13.00M201.50 262.00v13.00M197.10 264.10l8.80 8.80M197.10 272.90l8.80 -8.80M202.00 256.50h13.00M208.50 250.00v13.00M204.10 252.10l8.80 8.80M204.10 260.90l8.80 -8.80M201.00 258.50h13.00M207.50 252.00v13.00M203.10 254.10l8.80 8.80M203.10 262.90l8.80 -8.80M201.00 255.50h13.00M207.50 249.00v13.00M203.10 251.10l8.80 8.80M203.10 259.90l8.80 -8.80M200.00 258.50h13.00M206.50 252.00v13.00M202.10 254.10l8.80 8.80M202.10 262.90l8.80 -8.80M206.00 247.50h13.00M212.50 241.00v13.00M208.10 243.10l8.80 8.80M208.10 251.90l8.80 -8.80M208.00 250.50h13.00M214.50 244.00v13.00M210.10 246.10l8.80 8.80M210.10 254.90l8.80 -8.80M205.00 247.50h13.00M211.50 241.00v13.00M207.10 243.10l8.80 8.80M207.10 251.90l8.80 -8.80M208.00 250.50h13.00M214.50 244.00v13.00M210.10 246.10l8.80 8.80M210.10 254.90l8.80 -8.80M210.00 235.50h13.00M216.50 229.00v13.00M212.10 231.10l8.80 8.80M212.10 239.90l8.80 -8.80M210.00 240.50h13.00M216.50 234.00v13.00M212.10 236.10l8.80 8.80M212.10 244.90l8.80 -8.80M594.00 402.50h13.00M600.50 396.00v13.00M596.10 398.10l8.80 8.80M596.10 406.90l8.80 -8.80M593.00 409.50h13.00M599.50 403.00v13.00M595.10 405.10l8.80 8.80M595.10 413.90l8.80 -8.80M598.00 407.50h13.00M604.50 401.00v13.00M600.10 403.10l8.80 8.80M600.10 411.90l8.80 -8.80M598.00 414.50h13.00M604.50 408.00v13.00M600.10 410.10l8.80 8.80M600.10 418.90l8.80 -8.80M601.00 411.50h13.00M607.50 405.00v13.00M603.10 407.10l8.80 8.80M603.10 415.90l8.80 -8.80M601.00 420.50h13.00M607.50 414.00v13.00M603.10 416.10l8.80 8.80M603.10 424.90l8.80 -8.80M602.00 418.50h13.00M608.50 412.00v13.00M604.10 414.10l8.80 8.80M604.10 422.90l8.80 -8.80M603.00 427.50h13.00M609.50 421.00v13.00M605.10 423.10l8.80 8.80M605.10 431.90l8.80 -8.80M605.00 422.50h13.00M611.50 416.00v13.00M607.10 418.10l8.80 8.80M607.10 426.90l8.80 -8.80M608.00 432.50h13.00M614.50 426.00v13.00M610.10 428.10l8.80 8.80M610.10 436.90l8.80 -8.80M605.00 422.50h13.00M611.50 416.00v13.00M607.10 418.10l8.80 8.80M607.10 426.90l8.80 -8.80M606.00 430.50h13.00M612.50 424.00v13.00M608.10 426.10l8.80 8.80M608.10 434.90l8.80 -8.80M610.00 427.50h13.00M616.50 421.00v13.00M612.10 423.10l8.80 8.80M612.10 431.90l8.80 -8.80M611.00 435.50h13.00M617.50 429.00v13.00M613.10 431.10l8.80 8.80M613.10 439.90l8.80 -8.80M616.00 435.50h13.00M622.50 429.00v13.00M618.10 431.10l8.80 8.80M618.10 439.90l8.80 -8.80M615.00 443.50h13.00M621.50 437.00v13.00M617.10 439.10l8.80 8.80M617.10 447.90l8.80 -8.80M618.00 440.50h13.00M624.50 434.00v13.00M620.10 436.10l8.80 8.80M620.10 444.90l8.80 -8.80M619.00 447.50h13.00M625.50 441.00v13.00M621.10 443.10l8.80 8.80M621.10 451.90l8.80 -8.80M617.00 440.50h13.00M623.50 434.00v13.00M619.10 436.10l8.80 8.80M619.10 444.90l8.80 -8.80M618.00 448.50h13.00M624.50 442.00v13.00M620.10 444.10l8.80 8.80M620.10 452.90l8.80 -8.80M622.00 445.50h13.00M628.50 439.00v13.00M624.10 441.10l8.80 8.80M624.10 449.90l8.80 -8.80M622.00 453.50h13.00M628.50 447.00v13.00M624.10 449.10l8.80 8.80M624.10 457.90l8.80 -8.80M627.00 448.50h13.00M633.50 442.00v13.00M629.10 444.10l8.80 8.80M629.10 452.90l8.80 -8.80M625.00 455.50h13.00M631.50 449.00v13.00M627.10 451.10l8.80 8.80M627.10 459.90l8.80 -8.80M631.00 452.50h13.00M637.50 446.00v13.00M633.10 448.10l8.80 8.80M633.10 456.90l8.80 -8.80M629.00 460.50h13.00M635.50 454.00v13.00M631.10 456.10l8.80 8.80M631.10 464.90l8.80 -8.80M634.00 457.50h13.00M640.50 451.00v13.00M636.10 453.10l8.80 8.80M636.10 461.90l8.80 -8.80M632.00 464.50h13.00M638.50 458.00v13.00M634.10 460.10l8.80 8.80M634.10 468.90l8.80 -8.80M634.00 456.50h13.00M640.50 450.00v13.00M636.10 452.10l8.80 8.80M636.10 460.90l8.80 -8.80M634.00 466.50h13.00M640.50 460.00v13.00M636.10 462.10l8.80 8.80M636.10 470.90l8.80 -8.80M637.00 463.50h13.00M643.50 457.00v13.00M639.10 459.10l8.80 8.80M639.10 467.90l8.80 -8.80M638.00 472.50h13.00M644.50 466.00v13.00M640.10 468.10l8.80 8.80M640.10 476.90l8.80 -8.80M643.00 469.50h13.00M649.50 463.00v13.00M645.10 465.10l8.80 8.80M645.10 473.90l8.80 -8.80M641.00 478.50h13.00M647.50 472.00v13.00M643.10 474.10l8.80 8.80M643.10 482.90l8.80 -8.80M645.00 475.50h13.00M651.50 469.00v13.00M647.10 471.10l8.80 8.80M647.10 479.90l8.80 -8.80M646.00 482.50h13.00M652.50 476.00v13.00M648.10 478.10l8.80 8.80M648.10 486.90l8.80 -8.80M647.00 475.50h13.00M653.50 469.00v13.00M649.10 471.10l8.80 8.80M649.10 479.90l8.80 -8.80M645.00 483.50h13.00M651.50 477.00v13.00M647.10 479.10l8.80 8.80M647.10 487.90l8.80 -8.80M652.00 479.50h13.00M658.50 473.00v13.00M654.10 475.10l8.80 8.80M654.10 483.90l8.80 -8.80M650.00 487.50h13.00M656.50 481.00v13.00M652.10 483.10l8.80 8.80M652.10 491.90l8.80 -8.80M656.00 484.50h13.00M662.50 478.00v13.00M658.10 480.10l8.80 8.80M658.10 488.90l8.80 -8.80M656.00 490.50h13.00M662.50 484.00v13.00M658.10 486.10l8.80 8.80M658.10 494.90l8.80 -8.80M696.00 429.50h13.00M702.50 423.00v13.00M698.10 425.10l8.80 8.80M698.10 433.90l8.80 -8.80M694.00 436.50h13.00M700.50 430.00v13.00M696.10 432.10l8.80 8.80M696.10 440.90l8.80 -8.80M697.00 438.50h13.00M703.50 432.00v13.00M699.10 434.10l8.80 8.80M699.10 442.90l8.80 -8.80M697.00 442.50h13.00M703.50 436.00v13.00M699.10 438.10l8.80 8.80M699.10 446.90l8.80 -8.80M698.00 444.50h13.00M704.50 438.00v13.00M700.10 440.10l8.80 8.80M700.10 448.90l8.80 -8.80M699.00 451.50h13.00M705.50 445.00v13.00M701.10 447.10l8.80 8.80M701.10 455.90l8.80 -8.80M699.00 443.50h13.00M705.50 437.00v13.00M701.10 439.10l8.80 8.80M701.10 447.90l8.80 -8.80M698.00 451.50h13.00M704.50 445.00v13.00M700.10 447.10l8.80 8.80M700.10 455.90l8.80 -8.80M700.00 452.50h13.00M706.50 446.00v13.00M702.10 448.10l8.80 8.80M702.10 456.90l8.80 -8.80M702.00 457.50h13.00M708.50 451.00v13.00M704.10 453.10l8.80 8.80M704.10 461.90l8.80 -8.80M703.00 458.50h13.00M709.50 452.00v13.00M705.10 454.10l8.80 8.80M705.10 462.90l8.80 -8.80M704.00 464.50h13.00M710.50 458.00v13.00M706.10 460.10l8.80 8.80M706.10 468.90l8.80 -8.80M677.00 450.50h13.00M683.50 444.00v13.00M679.10 446.10l8.80 8.80M679.10 454.90l8.80 -8.80M677.00 459.50h13.00M683.50 453.00v13.00M679.10 455.10l8.80 8.80M679.10 463.90l8.80 -8.80M681.00 459.50h13.00M687.50 453.00v13.00M683.10 455.10l8.80 8.80M683.10 463.90l8.80 -8.80M682.00 464.50h13.00M688.50 458.00v13.00M684.10 460.10l8.80 8.80M684.10 468.90l8.80 -8.80M684.00 466.50h13.00M690.50 460.00v13.00M686.10 462.10l8.80 8.80M686.10 470.90l8.80 -8.80M683.00 472.50h13.00M689.50 466.00v13.00M685.10 468.10l8.80 8.80M685.10 476.90l8.80 -8.80M683.00 468.50h13.00M689.50 462.00v13.00M685.10 464.10l8.80 8.80M685.10 472.90l8.80 -8.80M684.00 474.50h13.00M690.50 468.00v13.00M686.10 470.10l8.80 8.80M686.10 478.90l8.80 -8.80M686.00 472.50h13.00M692.50 466.00v13.00M688.10 468.10l8.80 8.80M688.10 476.90l8.80 -8.80M688.00 477.50h13.00M694.50 471.00v13.00M690.10 473.10l8.80 8.80M690.10 481.90l8.80 -8.80M690.00 477.50h13.00M696.50 471.00v13.00M692.10 473.10l8.80 8.80M692.10 481.90l8.80 -8.80M691.00 484.50h13.00M697.50 478.00v13.00M693.10 480.10l8.80 8.80M693.10 488.90l8.80 -8.80M573.00 366.50h13.00M579.50 360.00v13.00M575.10 362.10l8.80 8.80M575.10 370.90l8.80 -8.80M572.00 374.50h13.00M578.50 368.00v13.00M574.10 370.10l8.80 8.80M574.10 378.90l8.80 -8.80M578.00 372.50h13.00M584.50 366.00v13.00M580.10 368.10l8.80 8.80M580.10 376.90l8.80 -8.80M577.00 378.50h13.00M583.50 372.00v13.00M579.10 374.10l8.80 8.80M579.10 382.90l8.80 -8.80M580.00 376.50h13.00M586.50 370.00v13.00M582.10 372.10l8.80 8.80M582.10 380.90l8.80 -8.80M581.00 384.50h13.00M587.50 378.00v13.00M583.10 380.10l8.80 8.80M583.10 388.90l8.80 -8.80M581.00 378.50h13.00M587.50 372.00v13.00M583.10 374.10l8.80 8.80M583.10 382.90l8.80 -8.80M581.00 385.50h13.00M587.50 379.00v13.00M583.10 381.10l8.80 8.80M583.10 389.90l8.80 -8.80M584.00 383.50h13.00M590.50 377.00v13.00M586.10 379.10l8.80 8.80M586.10 387.90l8.80 -8.80M586.00 390.50h13.00M592.50 384.00v13.00M588.10 386.10l8.80 8.80M588.10 394.90l8.80 -8.80M589.00 388.50h13.00M595.50 382.00v13.00M591.10 384.10l8.80 8.80M591.10 392.90l8.80 -8.80M590.00 394.50h13.00M596.50 388.00v13.00M592.10 390.10l8.80 8.80M592.10 398.90l8.80 -8.80M590.00 388.50h13.00M596.50 382.00v13.00M592.10 384.10l8.80 8.80M592.10 392.90l8.80 -8.80M590.00 394.50h13.00M596.50 388.00v13.00M592.10 390.10l8.80 8.80M592.10 398.90l8.80 -8.80M593.00 393.50h13.00M599.50 387.00v13.00M595.10 389.10l8.80 8.80M595.10 397.90l8.80 -8.80M594.00 402.50h13.00M600.50 396.00v13.00M596.10 398.10l8.80 8.80M596.10 406.90l8.80 -8.80M597.00 401.50h13.00M603.50 395.00v13.00M599.10 397.10l8.80 8.80M599.10 405.90l8.80 -8.80M598.00 406.50h13.00M604.50 400.00v13.00M600.10 402.10l8.80 8.80M600.10 410.90l8.80 -8.80M597.00 399.50h13.00M603.50 393.00v13.00M599.10 395.10l8.80 8.80M599.10 403.90l8.80 -8.80M597.00 408.50h13.00M603.50 402.00v13.00M599.10 404.10l8.80 8.80M599.10 412.90l8.80 -8.80M602.00 410.50h13.00M608.50 404.00v13.00M604.10 406.10l8.80 8.80M604.10 414.90l8.80 -8.80M602.00 416.50h13.00M608.50 410.00v13.00M604.10 412.10l8.80 8.80M604.10 420.90l8.80 -8.80M468.00 268.50h13.00M474.50 262.00v13.00M470.10 264.10l8.80 8.80M470.10 272.90l8.80 -8.80M466.00 279.50h13.00M472.50 273.00v13.00M468.10 275.10l8.80 8.80M468.10 283.90l8.80 -8.80M468.00 274.50h13.00M474.50 268.00v13.00M470.10 270.10l8.80 8.80M470.10 278.90l8.80 -8.80M468.00 283.50h13.00M474.50 277.00v13.00M470.10 279.10l8.80 8.80M470.10 287.90l8.80 -8.80M470.00 280.50h13.00M476.50 274.00v13.00M472.10 276.10l8.80 8.80M472.10 284.90l8.80 -8.80M471.00 289.50h13.00M477.50 283.00v13.00M473.10 285.10l8.80 8.80M473.10 293.90l8.80 -8.80M470.00 281.50h13.00M476.50 275.00v13.00M472.10 277.10l8.80 8.80M472.10 285.90l8.80 -8.80M471.00 290.50h13.00M477.50 284.00v13.00M473.10 286.10l8.80 8.80M473.10 294.90l8.80 -8.80M477.00 285.50h13.00M483.50 279.00v13.00M479.10 281.10l8.80 8.80M479.10 289.90l8.80 -8.80M477.00 292.50h13.00M483.50 286.00v13.00M479.10 288.10l8.80 8.80M479.10 296.90l8.80 -8.80M481.00 288.50h13.00M487.50 282.00v13.00M483.10 284.10l8.80 8.80M483.10 292.90l8.80 -8.80M478.00 297.50h13.00M484.50 291.00v13.00M480.10 293.10l8.80 8.80M480.10 301.90l8.80 -8.80M485.00 290.50h13.00M491.50 284.00v13.00M487.10 286.10l8.80 8.80M487.10 294.90l8.80 -8.80M483.00 300.50h13.00M489.50 294.00v13.00M485.10 296.10l8.80 8.80M485.10 304.90l8.80 -8.80M484.00 292.50h13.00M490.50 286.00v13.00M486.10 288.10l8.80 8.80M486.10 296.90l8.80 -8.80M482.00 299.50h13.00M488.50 293.00v13.00M484.10 295.10l8.80 8.80M484.10 303.90l8.80 -8.80M488.00 297.50h13.00M494.50 291.00v13.00M490.10 293.10l8.80 8.80M490.10 301.90l8.80 -8.80M488.00 304.50h13.00M494.50 298.00v13.00M490.10 300.10l8.80 8.80M490.10 308.90l8.80 -8.80M494.00 301.50h13.00M500.50 295.00v13.00M496.10 297.10l8.80 8.80M496.10 305.90l8.80 -8.80M494.00 309.50h13.00M500.50 303.00v13.00M496.10 305.10l8.80 8.80M496.10 313.90l8.80 -8.80M495.00 302.50h13.00M501.50 296.00v13.00M497.10 298.10l8.80 8.80M497.10 306.90l8.80 -8.80M492.00 307.50h13.00M498.50 301.00v13.00M494.10 303.10l8.80 8.80M494.10 311.90l8.80 -8.80M499.00 305.50h13.00M505.50 299.00v13.00M501.10 301.10l8.80 8.80M501.10 309.90l8.80 -8.80M497.00 312.50h13.00M503.50 306.00v13.00M499.10 308.10l8.80 8.80M499.10 316.90l8.80 -8.80M502.00 308.50h13.00M508.50 302.00v13.00M504.10 304.10l8.80 8.80M504.10 312.90l8.80 -8.80M500.00 315.50h13.00M506.50 309.00v13.00M502.10 311.10l8.80 8.80M502.10 319.90l8.80 -8.80M505.00 312.50h13.00M511.50 306.00v13.00M507.10 308.10l8.80 8.80M507.10 316.90l8.80 -8.80M505.00 320.50h13.00M511.50 314.00v13.00M507.10 316.10l8.80 8.80M507.10 324.90l8.80 -8.80M507.00 311.50h13.00M513.50 305.00v13.00M509.10 307.10l8.80 8.80M509.10 315.90l8.80 -8.80M506.00 320.50h13.00M512.50 314.00v13.00M508.10 316.10l8.80 8.80M508.10 324.90l8.80 -8.80M510.00 316.50h13.00M516.50 310.00v13.00M512.10 312.10l8.80 8.80M512.10 320.90l8.80 -8.80M509.00 324.50h13.00M515.50 318.00v13.00M511.10 320.10l8.80 8.80M511.10 328.90l8.80 -8.80M511.00 321.50h13.00M517.50 315.00v13.00M513.10 317.10l8.80 8.80M513.10 325.90l8.80 -8.80M513.00 328.50h13.00M519.50 322.00v13.00M515.10 324.10l8.80 8.80M515.10 332.90l8.80 -8.80M515.00 324.50h13.00M521.50 318.00v13.00M517.10 320.10l8.80 8.80M517.10 328.90l8.80 -8.80M514.00 331.50h13.00M520.50 325.00v13.00M516.10 327.10l8.80 8.80M516.10 335.90l8.80 -8.80M515.00 324.50h13.00M521.50 318.00v13.00M517.10 320.10l8.80 8.80M517.10 328.90l8.80 -8.80M515.00 330.50h13.00M521.50 324.00v13.00M517.10 326.10l8.80 8.80M517.10 334.90l8.80 -8.80M520.00 328.50h13.00M526.50 322.00v13.00M522.10 324.10l8.80 8.80M522.10 332.90l8.80 -8.80M520.00 335.50h13.00M526.50 329.00v13.00M522.10 331.10l8.80 8.80M522.10 339.90l8.80 -8.80M524.00 334.50h13.00M530.50 328.00v13.00M526.10 330.10l8.80 8.80M526.10 338.90l8.80 -8.80M524.00 341.50h13.00M530.50 335.00v13.00M526.10 337.10l8.80 8.80M526.10 345.90l8.80 -8.80M387.00 228.50h13.00M393.50 222.00v13.00M389.10 224.10l8.80 8.80M389.10 232.90l8.80 -8.80M388.00 232.50h13.00M394.50 226.00v13.00M390.10 228.10l8.80 8.80M390.10 236.90l8.80 -8.80M388.00 237.50h13.00M394.50 231.00v13.00M390.10 233.10l8.80 8.80M390.10 241.90l8.80 -8.80M393.00 229.50h13.00M399.50 223.00v13.00M395.10 225.10l8.80 8.80M395.10 233.90l8.80 -8.80M393.00 235.50h13.00M399.50 229.00v13.00M395.10 231.10l8.80 8.80M395.10 239.90l8.80 -8.80M394.00 239.50h13.00M400.50 233.00v13.00M396.10 235.10l8.80 8.80M396.10 243.90l8.80 -8.80M398.00 231.50h13.00M404.50 225.00v13.00M400.10 227.10l8.80 8.80M400.10 235.90l8.80 -8.80M397.00 236.50h13.00M403.50 230.00v13.00M399.10 232.10l8.80 8.80M399.10 240.90l8.80 -8.80M398.00 242.50h13.00M404.50 236.00v13.00M400.10 238.10l8.80 8.80M400.10 246.90l8.80 -8.80M403.00 232.50h13.00M409.50 226.00v13.00M405.10 228.10l8.80 8.80M405.10 236.90l8.80 -8.80M401.00 238.50h13.00M407.50 232.00v13.00M403.10 234.10l8.80 8.80M403.10 242.90l8.80 -8.80M402.00 244.50h13.00M408.50 238.00v13.00M404.10 240.10l8.80 8.80M404.10 248.90l8.80 -8.80M405.00 234.50h13.00M411.50 228.00v13.00M407.10 230.10l8.80 8.80M407.10 238.90l8.80 -8.80M405.00 239.50h13.00M411.50 233.00v13.00M407.10 235.10l8.80 8.80M407.10 243.90l8.80 -8.80M404.00 244.50h13.00M410.50 238.00v13.00M406.10 240.10l8.80 8.80M406.10 248.90l8.80 -8.80M406.00 235.50h13.00M412.50 229.00v13.00M408.10 231.10l8.80 8.80M408.10 239.90l8.80 -8.80M405.00 240.50h13.00M411.50 234.00v13.00M407.10 236.10l8.80 8.80M407.10 244.90l8.80 -8.80M406.00 243.50h13.00M412.50 237.00v13.00M408.10 239.10l8.80 8.80M408.10 247.90l8.80 -8.80M409.00 235.50h13.00M415.50 229.00v13.00M411.10 231.10l8.80 8.80M411.10 239.90l8.80 -8.80M411.00 243.50h13.00M417.50 237.00v13.00M413.10 239.10l8.80 8.80M413.10 247.90l8.80 -8.80M410.00 246.50h13.00M416.50 240.00v13.00M412.10 242.10l8.80 8.80M412.10 250.90l8.80 -8.80M416.00 238.50h13.00M422.50 232.00v13.00M418.10 234.10l8.80 8.80M418.10 242.90l8.80 -8.80M414.00 243.50h13.00M420.50 237.00v13.00M416.10 239.10l8.80 8.80M416.10 247.90l8.80 -8.80M416.00 248.50h13.00M422.50 242.00v13.00M418.10 244.10l8.80 8.80M418.10 252.90l8.80 -8.80M420.00 240.50h13.00M426.50 234.00v13.00M422.10 236.10l8.80 8.80M422.10 244.90l8.80 -8.80M419.00 246.50h13.00M425.50 240.00v13.00M421.10 242.10l8.80 8.80M421.10 250.90l8.80 -8.80M420.00 251.50h13.00M426.50 245.00v13.00M422.10 247.10l8.80 8.80M422.10 255.90l8.80 -8.80M426.00 244.50h13.00M432.50 238.00v13.00M428.10 240.10l8.80 8.80M428.10 248.90l8.80 -8.80M426.00 246.50h13.00M432.50 240.00v13.00M428.10 242.10l8.80 8.80M428.10 250.90l8.80 -8.80M425.00 251.50h13.00M431.50 245.00v13.00M427.10 247.10l8.80 8.80M427.10 255.90l8.80 -8.80M426.00 242.50h13.00M432.50 236.00v13.00M428.10 238.10l8.80 8.80M428.10 246.90l8.80 -8.80M427.00 247.50h13.00M433.50 241.00v13.00M429.10 243.10l8.80 8.80M429.10 251.90l8.80 -8.80M426.00 252.50h13.00M432.50 246.00v13.00M428.10 248.10l8.80 8.80M428.10 256.90l8.80 -8.80M431.00 243.50h13.00M437.50 237.00v13.00M433.10 239.10l8.80 8.80M433.10 247.90l8.80 -8.80M431.00 247.50h13.00M437.50 241.00v13.00M433.10 243.10l8.80 8.80M433.10 251.90l8.80 -8.80M429.00 252.50h13.00M435.50 246.00v13.00M431.10 248.10l8.80 8.80M431.10 256.90l8.80 -8.80M433.00 243.50h13.00M439.50 237.00v13.00M435.10 239.10l8.80 8.80M435.10 247.90l8.80 -8.80M435.00 248.50h13.00M441.50 242.00v13.00M437.10 244.10l8.80 8.80M437.10 252.90l8.80 -8.80M435.00 251.50h13.00M441.50 245.00v13.00M437.10 247.10l8.80 8.80M437.10 255.90l8.80 -8.80M438.00 243.50h13.00M444.50 237.00v13.00M440.10 239.10l8.80 8.80M440.10 247.90l8.80 -8.80M438.00 247.50h13.00M444.50 241.00v13.00M440.10 243.10l8.80 8.80M440.10 251.90l8.80 -8.80M439.00 253.50h13.00M445.50 247.00v13.00M441.10 249.10l8.80 8.80M441.10 257.90l8.80 -8.80M444.00 244.50h13.00M450.50 238.00v13.00M446.10 240.10l8.80 8.80M446.10 248.90l8.80 -8.80M445.00 247.50h13.00M451.50 241.00v13.00M447.10 243.10l8.80 8.80M447.10 251.90l8.80 -8.80M443.00 251.50h13.00M449.50 245.00v13.00M445.10 247.10l8.80 8.80M445.10 255.90l8.80 -8.80M447.00 258.50h13.00M453.50 252.00v13.00M449.10 254.10l8.80 8.80M449.10 262.90l8.80 -8.80M449.00 264.50h13.00M455.50 258.00v13.00M451.10 260.10l8.80 8.80M451.10 268.90l8.80 -8.80M454.00 259.50h13.00M460.50 253.00v13.00M456.10 255.10l8.80 8.80M456.10 263.90l8.80 -8.80M456.00 265.50h13.00M462.50 259.00v13.00M458.10 261.10l8.80 8.80M458.10 269.90l8.80 -8.80M460.00 258.50h13.00M466.50 252.00v13.00M462.10 254.10l8.80 8.80M462.10 262.90l8.80 -8.80M461.00 266.50h13.00M467.50 260.00v13.00M463.10 262.10l8.80 8.80M463.10 270.90l8.80 -8.80M338.00 167.50h13.00M344.50 161.00v13.00M340.10 163.10l8.80 8.80M340.10 171.90l8.80 -8.80M338.00 176.50h13.00M344.50 170.00v13.00M340.10 172.10l8.80 8.80M340.10 180.90l8.80 -8.80M340.00 172.50h13.00M346.50 166.00v13.00M342.10 168.10l8.80 8.80M342.10 176.90l8.80 -8.80M340.00 179.50h13.00M346.50 173.00v13.00M342.10 175.10l8.80 8.80M342.10 183.90l8.80 -8.80M340.00 175.50h13.00M346.50 169.00v13.00M342.10 171.10l8.80 8.80M342.10 179.90l8.80 -8.80M341.00 183.50h13.00M347.50 177.00v13.00M343.10 179.10l8.80 8.80M343.10 187.90l8.80 -8.80M342.00 182.50h13.00M348.50 176.00v13.00M344.10 178.10l8.80 8.80M344.10 186.90l8.80 -8.80M344.00 187.50h13.00M350.50 181.00v13.00M346.10 183.10l8.80 8.80M346.10 191.90l8.80 -8.80M345.00 183.50h13.00M351.50 177.00v13.00M347.10 179.10l8.80 8.80M347.10 187.90l8.80 -8.80M346.00 191.50h13.00M352.50 185.00v13.00M348.10 187.10l8.80 8.80M348.10 195.90l8.80 -8.80M344.00 185.50h13.00M350.50 179.00v13.00M346.10 181.10l8.80 8.80M346.10 189.90l8.80 -8.80M345.00 192.50h13.00M351.50 186.00v13.00M347.10 188.10l8.80 8.80M347.10 196.90l8.80 -8.80M348.00 188.50h13.00M354.50 182.00v13.00M350.10 184.10l8.80 8.80M350.10 192.90l8.80 -8.80M347.00 194.50h13.00M353.50 188.00v13.00M349.10 190.10l8.80 8.80M349.10 198.90l8.80 -8.80M350.00 191.50h13.00M356.50 185.00v13.00M352.10 187.10l8.80 8.80M352.10 195.90l8.80 -8.80M351.00 199.50h13.00M357.50 193.00v13.00M353.10 195.10l8.80 8.80M353.10 203.90l8.80 -8.80M354.00 195.50h13.00M360.50 189.00v13.00M356.10 191.10l8.80 8.80M356.10 199.90l8.80 -8.80M352.00 201.50h13.00M358.50 195.00v13.00M354.10 197.10l8.80 8.80M354.10 205.90l8.80 -8.80M355.00 195.50h13.00M361.50 189.00v13.00M357.10 191.10l8.80 8.80M357.10 199.90l8.80 -8.80M354.00 203.50h13.00M360.50 197.00v13.00M356.10 199.10l8.80 8.80M356.10 207.90l8.80 -8.80M355.00 204.50h13.00M361.50 198.00v13.00M357.10 200.10l8.80 8.80M357.10 208.90l8.80 -8.80M354.00 209.50h13.00M360.50 203.00v13.00M356.10 205.10l8.80 8.80M356.10 213.90l8.80 -8.80M356.00 208.50h13.00M362.50 202.00v13.00M358.10 204.10l8.80 8.80M358.10 212.90l8.80 -8.80M355.00 214.50h13.00M361.50 208.00v13.00M357.10 210.10l8.80 8.80M357.10 218.90l8.80 -8.80M238.00 135.50h13.00M244.50 129.00v13.00M240.10 131.10l8.80 8.80M240.10 139.90l8.80 -8.80M240.00 139.50h13.00M246.50 133.00v13.00M242.10 135.10l8.80 8.80M242.10 143.90l8.80 -8.80M240.00 144.50h13.00M246.50 138.00v13.00M242.10 140.10l8.80 8.80M242.10 148.90l8.80 -8.80M245.00 134.50h13.00M251.50 128.00v13.00M247.10 130.10l8.80 8.80M247.10 138.90l8.80 -8.80M245.00 139.50h13.00M251.50 133.00v13.00M247.10 135.10l8.80 8.80M247.10 143.90l8.80 -8.80M246.00 146.50h13.00M252.50 140.00v13.00M248.10 142.10l8.80 8.80M248.10 150.90l8.80 -8.80M249.00 133.50h13.00M255.50 127.00v13.00M251.10 129.10l8.80 8.80M251.10 137.90l8.80 -8.80M248.00 139.50h13.00M254.50 133.00v13.00M250.10 135.10l8.80 8.80M250.10 143.90l8.80 -8.80M249.00 146.50h13.00M255.50 140.00v13.00M251.10 142.10l8.80 8.80M251.10 150.90l8.80 -8.80M255.00 135.50h13.00M261.50 129.00v13.00M257.10 131.10l8.80 8.80M257.10 139.90l8.80 -8.80M254.00 139.50h13.00M260.50 133.00v13.00M256.10 135.10l8.80 8.80M256.10 143.90l8.80 -8.80M255.00 146.50h13.00M261.50 140.00v13.00M257.10 142.10l8.80 8.80M257.10 150.90l8.80 -8.80M259.00 135.50h13.00M265.50 129.00v13.00M261.10 131.10l8.80 8.80M261.10 139.90l8.80 -8.80M260.00 141.50h13.00M266.50 135.00v13.00M262.10 137.10l8.80 8.80M262.10 145.90l8.80 -8.80M258.00 145.50h13.00M264.50 139.00v13.00M260.10 141.10l8.80 8.80M260.10 149.90l8.80 -8.80M263.00 134.50h13.00M269.50 128.00v13.00M265.10 130.10l8.80 8.80M265.10 138.90l8.80 -8.80M265.00 141.50h13.00M271.50 135.00v13.00M267.10 137.10l8.80 8.80M267.10 145.90l8.80 -8.80M264.00 146.50h13.00M270.50 140.00v13.00M266.10 142.10l8.80 8.80M266.10 150.90l8.80 -8.80M270.00 143.50h13.00M276.50 137.00v13.00M272.10 139.10l8.80 8.80M272.10 147.90l8.80 -8.80M270.00 152.50h13.00M276.50 146.00v13.00M272.10 148.10l8.80 8.80M272.10 156.90l8.80 -8.80M275.00 145.50h13.00M281.50 139.00v13.00M277.10 141.10l8.80 8.80M277.10 149.90l8.80 -8.80M277.00 153.50h13.00M283.50 147.00v13.00M279.10 149.10l8.80 8.80M279.10 157.90l8.80 -8.80M279.00 146.50h13.00M285.50 140.00v13.00M281.10 142.10l8.80 8.80M281.10 150.90l8.80 -8.80M281.00 152.50h13.00M287.50 146.00v13.00M283.10 148.10l8.80 8.80M283.10 156.90l8.80 -8.80M286.00 144.50h13.00M292.50 138.00v13.00M288.10 140.10l8.80 8.80M288.10 148.90l8.80 -8.80M284.00 152.50h13.00M290.50 146.00v13.00M286.10 148.10l8.80 8.80M286.10 156.90l8.80 -8.80M290.00 143.50h13.00M296.50 137.00v13.00M292.10 139.10l8.80 8.80M292.10 147.90l8.80 -8.80M288.00 153.50h13.00M294.50 147.00v13.00M290.10 149.10l8.80 8.80M290.10 157.90l8.80 -8.80M295.00 127.50h13.00M301.50 121.00v13.00M297.10 123.10l8.80 8.80M297.10 131.90l8.80 -8.80M294.00 132.50h13.00M300.50 126.00v13.00M296.10 128.10l8.80 8.80M296.10 136.90l8.80 -8.80M295.00 136.50h13.00M301.50 130.00v13.00M297.10 132.10l8.80 8.80M297.10 140.90l8.80 -8.80M299.00 125.50h13.00M305.50 119.00v13.00M301.10 121.10l8.80 8.80M301.10 129.90l8.80 -8.80M299.00 129.50h13.00M305.50 123.00v13.00M301.10 125.10l8.80 8.80M301.10 133.90l8.80 -8.80M299.00 135.50h13.00M305.50 129.00v13.00M301.10 131.10l8.80 8.80M301.10 139.90l8.80 -8.80M304.00 123.50h13.00M310.50 117.00v13.00M306.10 119.10l8.80 8.80M306.10 127.90l8.80 -8.80M304.00 128.50h13.00M310.50 122.00v13.00M306.10 124.10l8.80 8.80M306.10 132.90l8.80 -8.80M304.00 134.50h13.00M310.50 128.00v13.00M306.10 130.10l8.80 8.80M306.10 138.90l8.80 -8.80M310.00 123.50h13.00M316.50 117.00v13.00M312.10 119.10l8.80 8.80M312.10 127.90l8.80 -8.80M310.00 129.50h13.00M316.50 123.00v13.00M312.10 125.10l8.80 8.80M312.10 133.90l8.80 -8.80M309.00 131.50h13.00M315.50 125.00v13.00M311.10 127.10l8.80 8.80M311.10 135.90l8.80 -8.80M317.00 145.50h13.00M323.50 139.00v13.00M319.10 141.10l8.80 8.80M319.10 149.90l8.80 -8.80M318.00 153.50h13.00M324.50 147.00v13.00M320.10 149.10l8.80 8.80M320.10 157.90l8.80 -8.80M319.00 148.50h13.00M325.50 142.00v13.00M321.10 144.10l8.80 8.80M321.10 152.90l8.80 -8.80M322.00 157.50h13.00M328.50 151.00v13.00M324.10 153.10l8.80 8.80M324.10 161.90l8.80 -8.80M325.00 152.50h13.00M331.50 146.00v13.00M327.10 148.10l8.80 8.80M327.10 156.90l8.80 -8.80M324.00 159.50h13.00M330.50 153.00v13.00M326.10 155.10l8.80 8.80M326.10 163.90l8.80 -8.80M327.00 154.50h13.00M333.50 148.00v13.00M329.10 150.10l8.80 8.80M329.10 158.90l8.80 -8.80M327.00 163.50h13.00M333.50 157.00v13.00M329.10 159.10l8.80 8.80M329.10 167.90l8.80 -8.80M332.00 159.50h13.00M338.50 153.00v13.00M334.10 155.10l8.80 8.80M334.10 163.90l8.80 -8.80M331.00 166.50h13.00M337.50 160.00v13.00M333.10 162.10l8.80 8.80M333.10 170.90l8.80 -8.80M664.00 508.50h13.00M670.50 502.00v13.00M666.10 504.10l8.80 8.80M666.10 512.90l8.80 -8.80M667.00 512.50h13.00M673.50 506.00v13.00M669.10 508.10l8.80 8.80M669.10 516.90l8.80 -8.80M670.00 514.50h13.00M676.50 508.00v13.00M672.10 510.10l8.80 8.80M672.10 518.90l8.80 -8.80M666.00 517.50h13.00M672.50 511.00v13.00M668.10 513.10l8.80 8.80M668.10 521.90l8.80 -8.80M669.00 518.50h13.00M675.50 512.00v13.00M671.10 514.10l8.80 8.80M671.10 522.90l8.80 -8.80M662.00 505.50h13.00M668.50 499.00v13.00M664.10 501.10l8.80 8.80M664.10 509.90l8.80 -8.80M682.00 511.50h13.00M688.50 505.00v13.00M684.10 507.10l8.80 8.80M684.10 515.90l8.80 -8.80M564.00 398.50h13.00M570.50 392.00v13.00M566.10 394.10l8.80 8.80M566.10 402.90l8.80 -8.80M567.00 402.50h13.00M573.50 396.00v13.00M569.10 398.10l8.80 8.80M569.10 406.90l8.80 -8.80M565.00 406.50h13.00M571.50 400.00v13.00M567.10 402.10l8.80 8.80M567.10 410.90l8.80 -8.80M569.00 395.50h13.00M575.50 389.00v13.00M571.10 391.10l8.80 8.80M571.10 399.90l8.80 -8.80M521.00 345.50h13.00M527.50 339.00v13.00M523.10 341.10l8.80 8.80M523.10 349.90l8.80 -8.80M524.00 349.50h13.00M530.50 343.00v13.00M526.10 345.10l8.80 8.80M526.10 353.90l8.80 -8.80M444.00 262.50h13.00M450.50 256.00v13.00M446.10 258.10l8.80 8.80M446.10 266.90l8.80 -8.80M446.00 266.50h13.00M452.50 260.00v13.00M448.10 262.10l8.80 8.80M448.10 270.90l8.80 -8.80M442.00 258.50h13.00M448.50 252.00v13.00M444.10 254.10l8.80 8.80M444.10 262.90l8.80 -8.80M466.00 286.50h13.00M472.50 280.00v13.00M468.10 282.10l8.80 8.80M468.10 290.90l8.80 -8.80M468.00 280.50h13.00M474.50 274.00v13.00M470.10 276.10l8.80 8.80M470.10 284.90l8.80 -8.80M366.00 283.50h13.00M372.50 277.00v13.00M368.10 279.10l8.80 8.80M368.10 287.90l8.80 -8.80M369.00 276.50h13.00M375.50 270.00v13.00M371.10 272.10l8.80 8.80M371.10 280.90l8.80 -8.80M374.00 280.50h13.00M380.50 274.00v13.00M376.10 276.10l8.80 8.80M376.10 284.90l8.80 -8.80M372.00 290.50h13.00M378.50 284.00v13.00M374.10 286.10l8.80 8.80M374.10 294.90l8.80 -8.80M366.00 292.50h13.00M372.50 286.00v13.00M368.10 288.10l8.80 8.80M368.10 296.90l8.80 -8.80M394.00 221.50h13.00M400.50 215.00v13.00M396.10 217.10l8.80 8.80M396.10 225.90l8.80 -8.80M389.00 226.50h13.00M395.50 220.00v13.00M391.10 222.10l8.80 8.80M391.10 230.90l8.80 -8.80M399.00 226.50h13.00M405.50 220.00v13.00M401.10 222.10l8.80 8.80M401.10 230.90l8.80 -8.80M392.00 232.50h13.00M398.50 226.00v13.00M394.10 228.10l8.80 8.80M394.10 236.90l8.80 -8.80M402.00 232.50h13.00M408.50 226.00v13.00M404.10 228.10l8.80 8.80M404.10 236.90l8.80 -8.80M407.00 236.50h13.00M413.50 230.00v13.00M409.10 232.10l8.80 8.80M409.10 240.90l8.80 -8.80M332.00 158.50h13.00M338.50 152.00v13.00M334.10 154.10l8.80 8.80M334.10 162.90l8.80 -8.80M328.00 165.50h13.00M334.50 159.00v13.00M330.10 161.10l8.80 8.80M330.10 169.90l8.80 -8.80M331.00 168.50h13.00M337.50 162.00v13.00M333.10 164.10l8.80 8.80M333.10 172.90l8.80 -8.80M115.00 265.50h13.00M121.50 259.00v13.00M117.10 261.10l8.80 8.80M117.10 269.90l8.80 -8.80M119.00 266.50h13.00M125.50 260.00v13.00M121.10 262.10l8.80 8.80M121.10 270.90l8.80 -8.80M120.00 272.50h13.00M126.50 266.00v13.00M122.10 268.10l8.80 8.80M122.10 276.90l8.80 -8.80M114.00 275.50h13.00M120.50 269.00v13.00M116.10 271.10l8.80 8.80M116.10 279.90l8.80 -8.80M118.00 276.50h13.00M124.50 270.00v13.00M120.10 272.10l8.80 8.80M120.10 280.90l8.80 -8.80M122.00 285.50h13.00M128.50 279.00v13.00M124.10 281.10l8.80 8.80M124.10 289.90l8.80 -8.80M115.00 284.50h13.00M121.50 278.00v13.00M117.10 280.10l8.80 8.80M117.10 288.90l8.80 -8.80M126.00 232.50h13.00M132.50 226.00v13.00M128.10 228.10l8.80 8.80M128.10 236.90l8.80 -8.80M129.00 236.50h13.00M135.50 230.00v13.00M131.10 232.10l8.80 8.80M131.10 240.90l8.80 -8.80M132.00 240.50h13.00M138.50 234.00v13.00M134.10 236.10l8.80 8.80M134.10 244.90l8.80 -8.80M136.00 246.50h13.00M142.50 240.00v13.00M138.10 242.10l8.80 8.80M138.10 250.90l8.80 -8.80M139.00 244.50h13.00M145.50 238.00v13.00M141.10 240.10l8.80 8.80M141.10 248.90l8.80 -8.80M131.00 248.50h13.00M137.50 242.00v13.00M133.10 244.10l8.80 8.80M133.10 252.90l8.80 -8.80M134.00 250.50h13.00M140.50 244.00v13.00M136.10 246.10l8.80 8.80M136.10 254.90l8.80 -8.80M232.00 183.50h13.00M238.50 177.00v13.00M234.10 179.10l8.80 8.80M234.10 187.90l8.80 -8.80M234.00 187.50h13.00M240.50 181.00v13.00M236.10 183.10l8.80 8.80M236.10 191.90l8.80 -8.80M236.00 185.50h13.00M242.50 179.00v13.00M238.10 181.10l8.80 8.80M238.10 189.90l8.80 -8.80M230.00 193.50h13.00M236.50 187.00v13.00M232.10 189.10l8.80 8.80M232.10 197.90l8.80 -8.80M232.00 196.50h13.00M238.50 190.00v13.00M234.10 192.10l8.80 8.80M234.10 200.90l8.80 -8.80M219.00 206.50h13.00M225.50 200.00v13.00M221.10 202.10l8.80 8.80M221.10 210.90l8.80 -8.80M222.00 205.50h13.00M228.50 199.00v13.00M224.10 201.10l8.80 8.80M224.10 209.90l8.80 -8.80M224.00 209.50h13.00M230.50 203.00v13.00M226.10 205.10l8.80 8.80M226.10 213.90l8.80 -8.80M220.00 212.50h13.00M226.50 206.00v13.00M222.10 208.10l8.80 8.80M222.10 216.90l8.80 -8.80M227.00 214.50h13.00M233.50 208.00v13.00M229.10 210.10l8.80 8.80M229.10 218.90l8.80 -8.80M272.00 152.50h13.00M278.50 146.00v13.00M274.10 148.10l8.80 8.80M274.10 156.90l8.80 -8.80M276.00 154.50h13.00M282.50 148.00v13.00M278.10 150.10l8.80 8.80M278.10 158.90l8.80 -8.80M282.00 152.50h13.00M288.50 146.00v13.00M284.10 148.10l8.80 8.80M284.10 156.90l8.80 -8.80M286.00 153.50h13.00M292.50 147.00v13.00M288.10 149.10l8.80 8.80M288.10 157.90l8.80 -8.80M290.00 151.50h13.00M296.50 145.00v13.00M292.10 147.10l8.80 8.80M292.10 155.90l8.80 -8.80M294.00 152.50h13.00M300.50 146.00v13.00M296.10 148.10l8.80 8.80M296.10 156.90l8.80 -8.80M279.00 150.50h13.00M285.50 144.00v13.00M281.10 146.10l8.80 8.80M281.10 154.90l8.80 -8.80M269.00 155.50h13.00M275.50 149.00v13.00M271.10 151.10l8.80 8.80M271.10 159.90l8.80 -8.80M238.00 158.50h13.00M244.50 152.00v13.00M240.10 154.10l8.80 8.80M240.10 162.90l8.80 -8.80M240.00 166.50h13.00M246.50 160.00v13.00M242.10 162.10l8.80 8.80M242.10 170.90l8.80 -8.80M238.00 175.50h13.00M244.50 169.00v13.00M240.10 171.10l8.80 8.80M240.10 179.90l8.80 -8.80M235.00 178.50h13.00M241.50 172.00v13.00M237.10 174.10l8.80 8.80M237.10 182.90l8.80 -8.80" stroke="#f00" stroke-width="1" fill="none"/>
<g style="will-change:transform">
<text transform="translate(114.30 612.7) scale(0.975 1)" font-size="21.6" fill="#262626" text-anchor="middle">0</text>
<text transform="translate(249.30 612.7) scale(0.975 1)" font-size="21.6" fill="#262626" text-anchor="middle">5</text>
<text transform="translate(385.30 612.7) scale(0.975 1)" font-size="21.6" fill="#262626" text-anchor="middle">10</text>
<text transform="translate(520.30 612.7) scale(0.975 1)" font-size="21.6" fill="#262626" text-anchor="middle">15</text>
<text transform="translate(656.30 612.7) scale(0.975 1)" font-size="21.6" fill="#262626" text-anchor="middle">20</text>
<text transform="translate(791.30 612.7) scale(0.975 1)" font-size="21.6" fill="#262626" text-anchor="middle">25</text>
<text transform="translate(105.3 591.70) scale(0.975 1)" font-size="21.6" fill="#262626" text-anchor="end">20.4</text>
<text transform="translate(105.3 515.70) scale(0.975 1)" font-size="21.6" fill="#262626" text-anchor="end">20.42</text>
<text transform="translate(105.3 439.70) scale(0.975 1)" font-size="21.6" fill="#262626" text-anchor="end">20.44</text>
<text transform="translate(105.3 362.70) scale(0.975 1)" font-size="21.6" fill="#262626" text-anchor="end">20.46</text>
<text transform="translate(105.3 286.70) scale(0.975 1)" font-size="21.6" fill="#262626" text-anchor="end">20.48</text>
<text transform="translate(105.3 209.70) scale(0.975 1)" font-size="21.6" fill="#262626" text-anchor="end">20.5</text>
<text transform="translate(105.3 133.70) scale(0.975 1)" font-size="21.6" fill="#262626" text-anchor="end">20.52</text>
<text transform="translate(105.3 56.70) scale(0.975 1)" font-size="21.6" fill="#262626" text-anchor="end">20.54</text>
<text x="453.2" y="643.85" font-size="23.2" fill="#262626" text-anchor="middle">Time (Hours)</text>
<text transform="translate(40.1 316.6) rotate(-90)" x="0" y="0" font-size="23.3" fill="#262626" text-anchor="middle">Coil Temp (C)</text>
<text x="453.0" y="40.2" font-size="23.0" font-weight="bold" fill="#000" text-anchor="middle">Temperature vs Time for SXR Flex Coils</text>
</g>
</svg></body></html>
